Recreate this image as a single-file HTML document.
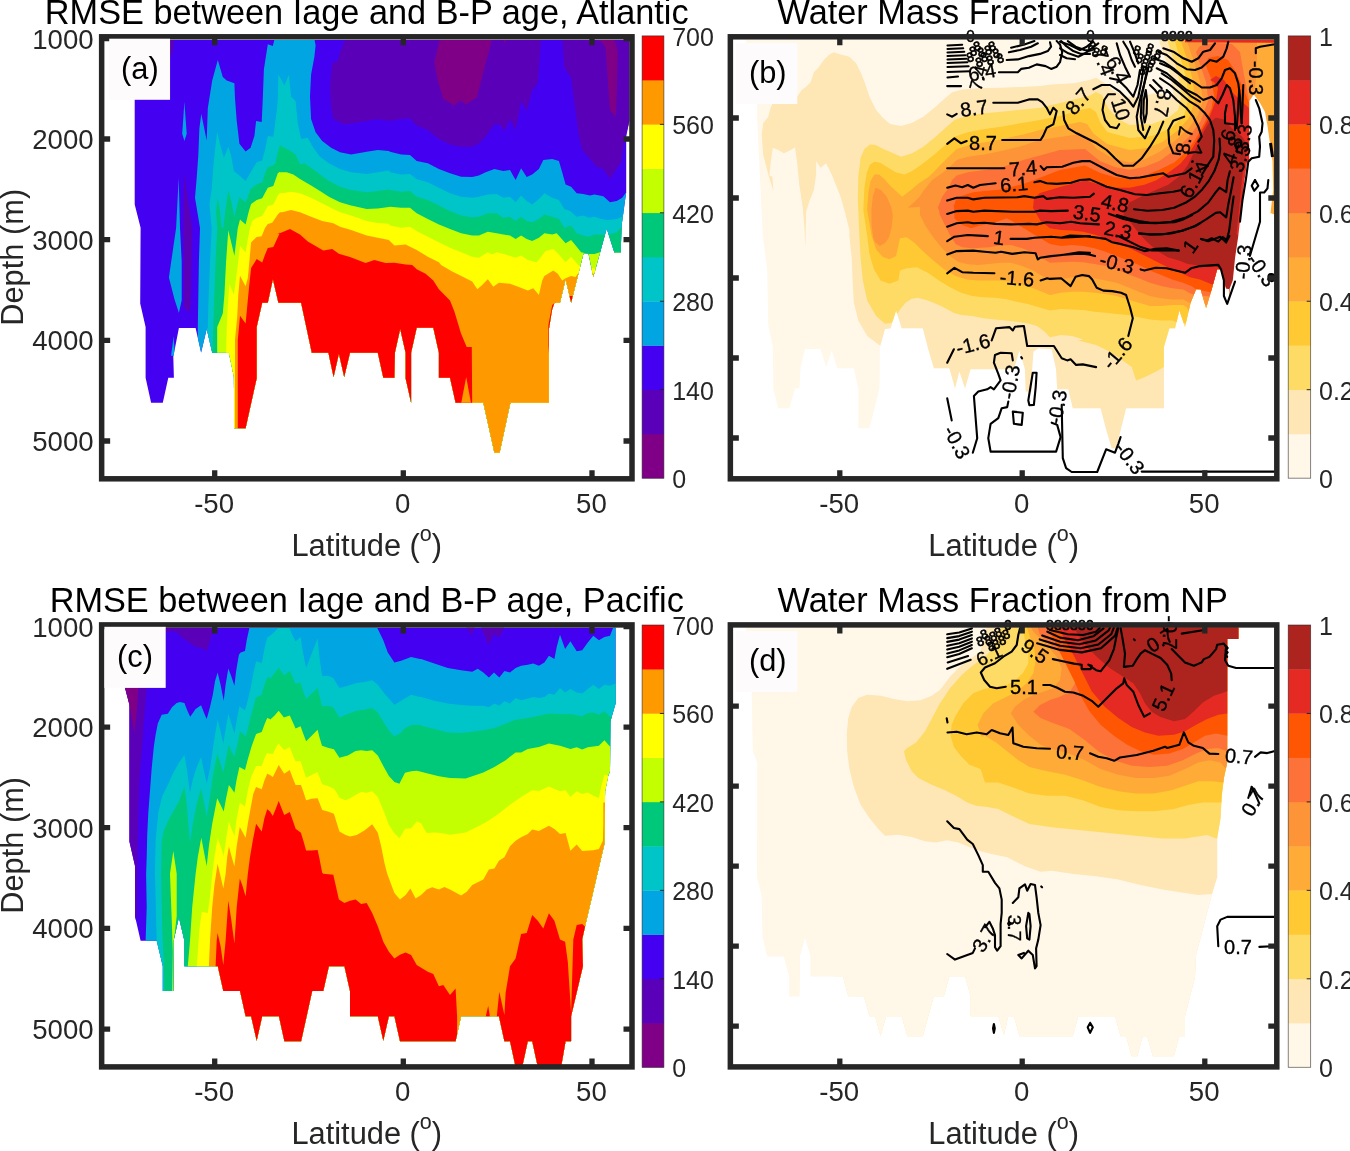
<!DOCTYPE html>
<html><head><meta charset="utf-8"><title>Figure</title>
<style>
html,body{margin:0;padding:0;background:#fff;}
svg{display:block;}
text{font-family:"Liberation Sans",sans-serif;fill:#262626;}
.tt{font-size:34.3px;fill:#000;text-anchor:middle;}
.tk{font-size:27.6px;}
.cb{font-size:25px;}
.tkm{font-size:27.6px;text-anchor:middle;}
.tke{font-size:27.6px;text-anchor:end;}
.lb{font-size:30.8px;text-anchor:middle;}
.cl{font-size:19px;fill:#000;text-anchor:middle;}
</style></head><body>
<svg width="1350" height="1151" viewBox="0 0 1350 1151">
<rect width="1350" height="1151" fill="#fff"/>

<g id="panel-a"><clipPath id="oc-a"><polygon points="134.7,39.9 629.3,39.9 629.3,121 626.2,136.7 626.2,192.2 621.6,225.6 620.7,252.5 614.4,252.5 606.7,228.4 593.3,277 588.5,253.5 583.5,253.5 571.1,302.7 565.6,279.3 560,302.7 554.4,302.7 552,310 548.9,329.3 548.9,402.7 510.4,402.7 499.6,452.7 494.4,452.7 483.3,402.7 455.6,402.7 450,377.8 438.9,377.8 438.9,352.7 433.3,327.8 416.7,327.8 411.1,352.7 411.1,402.7 405.6,378.2 405.6,352.7 400.2,328.9 394.9,352.7 394.4,377.8 383.3,377.8 377.8,352.7 350,352.7 344.2,377.1 338.9,353.8 333.6,377.1 328.4,352.7 311.8,352.7 301.1,302.7 278.4,302.7 272.9,279.3 267.8,302.7 262.2,302.7 256.7,327.1 256.7,378.2 245.6,428.2 234.2,428.3 233.9,376.7 228.9,352.8 212.2,352.8 206.7,329.1 201.1,352.4 195.6,328 178.9,328 173.3,356.7 173.9,377.8 168.3,377.8 162.8,402.8 151.1,402.8 145.6,377.8 145.6,326.9 140.2,303.6 140.6,227.8 134.7,204.4" fill="#000" /></clipPath>
<g clip-path="url(#oc-a)">
<polygon points="130,36 632,36 632,480 130,480" fill="#4400f0" />
<polygon points="345.6,38.4 340,52.2 337.8,61.1 332.2,63.3 330,85.6 331.1,107.8 333.3,118.9 344.4,124.4 366.7,121.1 377.8,118.9 388.9,121.1 390,121.1 401.1,118.9 410,118.4 416.7,125.6 427.8,130 438.9,138.9 450,144.4 461.1,146.7 472.2,146.7 478.9,143.3 485.6,136.7 490,130 495.6,123.3 501.1,125.6 504.4,131.1 510,118.9 515.6,130 521.1,101.1 526.7,111.1 532.2,90 537.8,83.3 540,52.2 541.1,38.4" fill="#5a00b8" />
<polygon points="562.2,38.4 564.4,67.8 571.1,77.8 574.4,103.3 578.9,136.7 582.2,150 590,158.9 596.7,166.7 603.3,168.9 610,178.9 615.6,170 621.1,162.2 624.4,136.7 630,123.3 630,38.4" fill="#5a00b8" />
<polygon points="440,38.4 436.7,52.2 434.4,63.3 437.8,81.1 443.3,98.9 454.4,105.6 460.4,100 465.6,104.4 476.7,97.8 480,85.6 485.6,63.3 491.1,43.3 491.8,38.4" fill="#7f0087" />
<polygon points="502.9,38.4 505.1,43.8 506.9,38.4" fill="#7f0087" />
<polygon points="594.4,38.4 602.2,42.2 605.6,47.8 608.9,96.7 610,110 615.6,116.7 616.7,96.7 617.8,52.2 615.6,43.3 613.3,38.4" fill="#7f0087" />
<polygon points="170,39.3 174.4,39.3 172.8,52.7 170,56.6" fill="#5a00b8" />
<polygon points="184.2,171.1 183.3,228 184.2,308 190,311.9 190.6,300.2 192.2,228 187.8,200" fill="#5a00b8" />
<polygon points="184.4,102.1 182.2,133.8 184.4,141 186.7,133.8" fill="#00a5e1" />
<polygon points="178.7,177.8 176.1,228 168.9,277.4 174.4,299.1 178.9,313 181.7,300.2 181.7,261.3 180,228" fill="#00a5e1" />
<polygon points="173.6,336.3 171.1,355.8 175,355.8" fill="#00a5e1" />
<polygon points="197.8,328 198.9,261.3 200,228 197.2,211.1 195,197.8 196.7,177.8 198.3,155.6 199.4,127.8 199.4,128.2 201.3,113.8 206.7,140.4 207.8,108.2 212.2,80.4 217.8,59.9 222.8,77.1 226.7,80.4 234.4,83.2 235,98.2 236.7,120.4 239.4,143.8 245.6,151.6 250.6,147.7 254.4,136 256.1,121 261.7,122.1 262.8,98.2 263.9,69.3 267.8,44.3 272.8,46 274.4,39.6 314.4,38.4 315.6,45.6 314.4,56.7 311.1,74.4 310,96.7 311.1,118.9 315.6,132.2 322.2,141.1 331.1,147.8 340,152.2 351.1,154.4 366.7,151.8 377.8,150 388.9,151.1 390,151.8 401.1,154.4 410,154.9 416.7,161.1 427.8,163.3 438.9,168.9 450,173.3 461.1,176.7 472.2,177.1 478.9,175.6 485.6,172.2 494.4,168.9 503.3,171.1 510,170 515.6,180 521.1,168.2 526.7,177.1 532.2,174.4 538.9,168.9 543.3,160 552.2,158.9 558.9,161.1 562.2,172.2 565.6,184.4 571.1,186.7 576.7,193.3 583.3,194 590,195.6 594.4,194.4 603.3,196.2 610,202.2 616.7,201.1 622.2,197.8 626.2,192.2 631.3,192.2 631.3,480 197.8,480" fill="#00a5e1" />
<polygon points="206.7,329.1 207.8,328 208.3,305.8 210,261.3 211.7,228 210.6,216.7 209.4,204.4 211.7,188.9 213.3,166.7 215,150 217.2,131.7 220,144.4 223.9,157.8 228.3,146.7 231.1,155.6 233.9,171.1 239.4,175.6 245.6,181.1 250.6,172.2 256.7,162.2 262.2,160.6 265,150 267.8,136.1 273.3,136.7 276.7,111.1 277.8,100 278.3,74.3 284.4,85.6 288.9,74.4 291.1,96.7 295.6,101.1 297.8,123.3 301.1,138.9 307.8,137.8 313.3,147.8 320,156.7 328.9,163.3 340,168.9 351.1,172.2 366.7,174 377.8,172.2 388.9,170.4 390,172.2 401.1,174.4 410,174 416.7,179.3 427.8,182.2 438.9,187.8 450,193.3 461.1,196.7 472.2,197.8 478.9,196.7 487.8,194.4 496.7,194 503.3,197.8 510,196.7 515.6,202.2 521.1,195.6 526.7,201.1 532.2,204.4 538.9,198.9 544.4,193.3 552.2,197.8 558.9,200 564.4,208.9 570,211.1 576.7,216.7 583.3,215.6 588.9,217.8 594.4,216.7 601.1,218.9 607.8,220 616.7,218.9 622.2,216.7 623.8,210 631.3,210 631.3,480 206.7,480" fill="#00c5c8" />
<polygon points="212.4,352.8 212.8,339.1 213.9,305.8 215.6,261.3 217.2,228 216.1,211.1 217.8,197.8 220,211.1 221.7,227.8 223.3,227.8 223.9,222.2 226.1,205.6 228.3,190 231.1,200 234.4,217.8 236.7,206.7 239.4,197.2 245.6,202.2 247.8,196.7 250.6,188.9 256.7,184.4 262.2,182.2 265,173.3 267.8,167.2 273.3,165.6 275.6,162.2 277.8,152.2 280,145 282.2,146.7 288.9,150 295.6,154.4 300,164.4 304.4,163.3 311.1,167.8 320,174.4 328.9,181.1 340,186.7 351.1,190 366.7,192.2 377.8,191.1 388.9,189.6 390,190 401.1,191.8 410,191.1 416.7,196.7 427.8,200 438.9,205.6 450,211.1 461.1,215.6 472.2,217.3 478.9,216.7 487.8,213.3 496.7,213.3 503.3,217.8 510,216.7 515.6,221.1 521.1,216.7 526.7,221.1 532.2,222.2 538.9,218.9 544.4,214.4 552.2,216.7 558.9,218.9 564.4,227.8 571.1,225.6 576.7,233.3 583.3,235.6 588.9,236.7 594.4,234.4 602.2,234.4 608.9,234.4 616.7,232.2 621.6,226.7 631.3,226.7 631.3,480 212.4,480" fill="#00c87a" />
<polygon points="217.2,352.8 217.2,326.9 222.8,313.6 224.4,294.7 226.1,261.3 228.3,230.2 234.4,255.8 237.8,228 240,219.4 245.6,224.4 248.9,211.1 251.1,203.9 256.7,200 262.2,198.3 267.8,187.8 273.3,186.1 277.8,173.3 280,171.7 280,172.2 286.7,172.2 293.3,174.4 300,178.9 311.1,185.6 320,191.1 328.9,196.7 340,202.2 351.1,205.6 366.7,208.9 377.8,208.4 388.9,207.1 390,206.7 401.1,207.8 410,207.8 416.7,213.3 427.8,218.9 438.9,224.4 450,228.9 461.1,233.3 472.2,235.6 478.9,235.6 487.8,231.8 496.7,233.3 503.3,234.4 510,235.6 515.6,238.9 521.1,235.6 526.7,238.9 532.2,241.1 538.9,237.8 544.4,233.3 552.2,234.4 556.7,233.3 565.6,243.3 571.1,240 576.7,246.7 581.1,252.2 588.9,254 594.4,254 600,252.2 607.8,252.2 627.8,252.2 631.3,252.2 631.3,480 217.2,480" fill="#c3ff00" />
<polygon points="226.1,352.8 226.7,328 227.8,305.8 229.4,284.1 233.9,294.7 236.1,278 237.8,264.7 240,245.8 245.6,252.4 247.8,239.1 250,228 252.2,221.1 256.7,217.8 262.2,216.1 267.8,206.1 273.3,204.4 277.8,195.6 280,192.8 282.2,193.3 291.1,191.8 300,193.3 311.1,197.8 320,202.2 328.9,206.7 340,212.2 351.1,215.6 366.7,221.1 377.8,222.9 388.9,223.8 390,225.6 401.1,227.8 410,226.7 416.7,231.1 427.8,236.7 438.9,242.2 450,247.8 461.1,252.2 472.2,256.7 478.9,257.8 487.8,252.2 492.2,254.4 496.7,252.2 505.6,254.4 515.6,257.8 521.1,255.6 527.8,260 536.7,262.2 541.1,256.7 545.6,251.1 553.3,248.9 558.9,254.4 565.6,262.2 571.1,256.7 576.7,263.3 578.9,265.6 627.8,274.4 631.3,274.4 631.3,480 226.1,480" fill="#ffff00" />
<polygon points="235,428.3 235,340 235.6,333.6 237.2,316.9 238.3,294.7 240,275.8 245.6,286.3 247.8,278 249.4,261.3 251.1,242.4 256.7,236.9 261.7,236.3 265,228 267.8,223.9 272.2,222.8 277.8,214.4 280,212.2 282.2,212.2 291.1,210 300,212.2 311.1,216.7 322.2,221.1 333.3,223.3 340,226.7 351.1,230 366.7,235.6 377.8,237.8 388.9,240 394.4,245.6 405.6,244.4 416.7,250 427.8,256.7 438.9,262.2 441.1,264.9 452.2,271.6 463.3,277.1 472.2,281.6 477.3,289.3 482.2,284.9 487.8,279.3 493.3,286.7 498.9,282.7 510,283.8 518.9,287.1 527.8,290.4 533.3,288.2 538.9,294.9 542.2,280.4 544.4,276 553.3,270.4 557.8,273.8 562.2,280.4 565.6,278.2 571.1,276 575.6,277.1 577.8,273.8 622.2,273.8 631.3,273.8 631.3,480 235,480" fill="#ff9900" />
<polygon points="237.8,428.3 237.8,340 238.9,328 240,315.8 245.6,323.6 247.8,300.2 249.4,283.6 251.1,268 256.7,259.1 262.2,262.4 265,254.7 267.8,248 273.3,246.9 274.4,244.7 280,232.4 276.7,234.4 282.2,232.2 290,228.9 300,234.4 307.8,241.6 323.3,250.4 332.2,248.9 338.9,253.8 350,257.1 365.6,263.1 374.4,260 385.6,263.1 394.4,262.7 405.6,264.4 412.2,264.9 416.7,269.3 425.6,273.8 433.3,280.4 438.9,289.3 450,300.4 454.4,311.6 461.1,333.8 466.7,347.1 471.8,347.1 472.2,404.9 237.8,480" fill="#ff0000" />
<polygon points="461.1,403.8 466.2,377.1 471.1,403.8" fill="#ff9900" />
<polygon points="555.6,302.2 552.2,304.9 548.4,324.9 548.4,353.8 550.2,329.3 553.3,309.3" fill="#ff0000" />
<polygon points="569.3,296 571.1,303.8 572.9,296" fill="#ff0000" />
</g></g>
<g id="panel-b"><clipPath id="oc-b"><polygon points="746,39.8 1274.3,39.8 1274.3,300 1229.4,300 1229.4,289.3 1226.1,288.2 1220.6,269.3 1217.2,269.3 1211.7,289.3 1206.1,308.2 1200.6,289.3 1196.1,289.3 1190.6,302.7 1185,327.1 1179.4,310.4 1175,328.2 1169.4,328.2 1163.9,347.1 1163.9,408.2 1126.1,408.2 1116.1,448.2 1111.7,448.2 1106.1,429.3 1100.6,408.2 1072.8,408.2 1068.3,389.3 1057.2,389.3 1056.1,369.3 1051.7,349.3 1038.3,348.2 1033.4,351.6 1032.1,369.3 1031.7,391.6 1025.7,391.6 1025,369.3 1019.4,350.4 1013.9,369.3 970.6,369.3 965,388.2 959.4,371.6 955,388.2 949.4,368.2 933.9,368.2 928.3,349.3 922.8,328.2 901.7,328.2 896.1,310.4 890.6,328.2 885,328.9 879.9,347.1 879.4,389.3 869.4,428.2 858.3,428.2 858.3,389.3 853.9,368.2 837.2,368.2 831.7,350.4 826.1,367.1 820.6,348.9 805,348.9 800.6,367.1 799.4,388.2 795,388.2 789.4,408.2 778.3,408.2 773.4,389.3 772.8,347.1 768.3,324.9 767.2,269.3 762.8,236 757.2,118.9 757.2,103.3 748,100" fill="#000" /></clipPath>
<g clip-path="url(#oc-b)">
<polygon points="740,36 1280,36 1280,482 740,482" fill="#fff7e8" />
<polygon points="763.2,123.3 768.3,116.7 770.6,107.8 772.8,103.3 797.2,96.7 801.7,90 806.1,86.7 810.6,82.2 813.9,72.2 818.3,67.8 823.9,60 829.4,54.4 833.9,52.2 840.6,54.4 849.4,56.7 856.1,63.3 860.6,72.2 865,83.3 869.4,96.7 876.1,110 882.8,117.8 890,123.9 901.1,126.1 912.2,122.8 923.3,116.7 934.4,107.8 945.6,97.8 952.2,92.2 962.2,89.4 978.9,88.3 1001.1,87.8 1023.3,86.9 1040,86.1 1051.7,84.4 1073.9,83.3 1089.4,80 1096.1,77.8 1105,83.3 1113.9,91.1 1127.2,96.7 1140.6,96.7 1153.9,93.3 1162.8,94.4 1169.4,98.9 1173.9,96.7 1172,85.6 1170,74.4 1167,63.3 1163,52.2 1160,43.3 1159,37.8 1280,37.8 1280,482 880.6,482 880.6,346 867.2,336 858.3,320.4 853.9,302.7 852.8,284.9 851.7,258.2 849.4,236 849.4,230 845,212.2 840.6,196.7 836.1,185.6 831.7,174.4 826.1,163.3 820.6,167.8 816.1,161.1 816.1,174.4 813.9,190 809.4,201.1 806.1,212.2 805.4,247.8 804.6,230 802.8,207.8 799.4,185.6 797.2,163.3 795,147.3 790.6,150 783.9,153.3 778.3,150 772.8,147.8 770.6,163.3 769.4,175.6 772.3,176.7 773.4,191.1 768.3,174.4 763.2,154.4 761.7,134.4" fill="#fee6b5" />
<polygon points="885,323.8 876.1,316 867.2,300.4 862.8,280.4 860.6,258.2 859.4,236 857.8,198.9 858.3,176.7 860.6,157.8 864.4,148.9 870,144.4 875.6,145 884.4,149.4 893.3,153.3 901.1,156.7 912.2,153.3 923.3,146.7 934.4,137.8 945.6,127.8 954.4,120 967.8,115.6 984.4,113.3 1001.1,111.7 1023.3,109.4 1040,107.8 1060,103 1080,98 1090,95.6 1096,92 1102,95 1108,108 1118,119 1129.6,125 1151.9,124 1168.2,118 1178,110 1181,98 1180,85 1177,70 1173,58 1169,46 1167,37.8 1280,37.8 1280,370 1163.9,367.1 1156.1,371.6 1145,377.1 1136.1,380.4 1131.7,367.1 1122.8,360.4 1109.4,351.6 1096.1,344.9 1078.3,340.4 1083.3,339.4 1072.2,336.1 1061.1,335 1050,337.2 1043.3,330.6 1036.7,326.1 1027.8,323.3 1016.7,321.7 1005.6,320.6 994.4,319.4 983.3,318.3 972.2,316.1 961.1,315 953.3,312.8 947.8,309.4 938.9,305 927.8,300.6 917.8,297.8 911.1,298.9 905.6,302.8 900,309.4 891.7,322.7" fill="#fedb65" />
<polygon points="889.4,283.8 880.6,280.4 873.9,269.3 869.4,253.8 867.2,236 863.3,210 864.4,187.8 866.7,173.3 870,164.4 874.4,161.7 880,162.8 886.7,166.7 895.6,172.2 904.4,174.4 912.2,171.1 923.3,163.3 934.4,154.4 945.6,144.4 954.4,136.7 967.8,132.2 984.4,128.9 1001.1,126.7 1023.3,122.8 1040,120 1060,116 1080,110 1090,108 1096,112 1100,122 1107.3,132 1129.6,138 1151.9,136 1171.2,128 1184,116 1188,100 1187,82 1183,66 1178,52 1174,37.8 1280,37.8 1280,340 1175.6,321.7 1172.2,320.6 1161.1,320.6 1150,319.4 1138.9,317.2 1127.8,315 1116.7,313.9 1105.6,312.8 1094.4,311.7 1083.3,310 1072.2,309.4 1061.1,308.9 1050,310.6 1038.9,307.2 1027.8,303.9 1016.7,301.7 1005.6,298.9 994.4,297.8 983.3,297.2 972.2,296.1 961.1,292.8 950,287.2 938.9,280.6 927.8,272.8 916.7,267.2 906.7,268.3 900,270.6 898.3,280.4" fill="#fec932" />
<polygon points="889.4,259.3 882.8,257.1 876.1,249.3 871.7,236 867.2,210 868.3,193.3 870.6,181.1 874.4,174.4 878.9,174.4 884.4,178.9 890,185.6 902.2,196.7 912.2,188.9 918.9,183.3 928.9,176.7 940,165.6 950,155.6 956.7,148.9 967.8,145.6 984.4,142.2 1001.1,139.4 1023.3,134.4 1040,130 1060,126 1080,122 1087,124 1093.9,134 1107.3,144 1129.6,150 1147.4,148 1162.3,142 1177.1,131 1189,118 1195,100 1193,82 1189,64 1184,50 1180,37.8 1280,37.8 1280,320 1188.9,311.7 1186.7,307.2 1183.3,305 1172.2,305 1161.1,306.1 1150,306.1 1138.9,302.8 1127.8,299.4 1116.7,296.1 1105.6,293.9 1094.4,292.8 1083.3,291.7 1072.2,291.7 1061.1,292.8 1050,295 1044.4,292.8 1033.3,288.3 1022.2,285 1011.1,281.7 1000,280.6 988.9,280.6 977.8,280.6 966.7,279.4 955.6,276.1 944.4,269.4 933.3,260.6 922.2,250.6 914.4,242.8 906.7,237.2 900,238.3 896.1,256" fill="#feab38" />
<polygon points="875.6,187.8 881.1,190 886.7,196.7 891.1,206.7 892.8,215.6 891.7,226.7 888.9,237.8 885,243 880,246 875,242 873.3,237.8 871.7,226.7 871.4,210 872.8,196.7" fill="#fd9437" />
<polygon points="907.8,207.8 918.9,197.8 923.3,191.1 932.2,180 943.3,172.2 952.2,164.4 956.7,160 967.8,156.7 984.4,154.4 1001.1,151.1 1023.3,145.6 1040,140 1060,137 1080,134 1088,139 1096.9,149 1111.7,158 1129.6,162.4 1144.4,159.4 1159.3,152 1174.2,141.6 1189,128.2 1197.9,114.9 1203,100 1200,82 1195,64 1190,50 1186,37.8 1257,37.8 1257,70 1254,94 1250,100 1250,310 1192.2,303.9 1187.8,301.7 1183.3,299.4 1172.2,299.4 1161.1,298.3 1150,296.1 1138.9,291.7 1127.8,287.2 1116.7,282.8 1105.6,280.6 1094.4,278.3 1083.3,277.2 1072.2,277.2 1061.1,278.9 1050,280.6 1044.4,277.2 1033.3,270.6 1022.2,266.1 1011.1,262.8 1000,262.8 988.9,263.9 977.8,265 966.7,263.9 957.8,261.7 950,256.1 942.2,248.3 933.3,237.2 925.6,226.1 920,215 920,212.2 920.2,206.7" fill="#fd9437" />
<polygon points="937.8,207.8 942.2,196.7 947.8,188.9 952.2,180 956.7,175.6 967.8,172.2 984.4,170 1001.1,167.8 1006.7,165.6 1023.3,160 1040,155.6 1060,150 1085,149 1099.9,160.9 1114.7,166.9 1129.6,169.8 1144.4,166.9 1159.3,160.9 1174.2,150.5 1189,137.1 1200.9,120.8 1208.3,100 1206,82 1200,64 1196,52 1200,46 1215,43 1232,44 1240,52 1244,75 1249,100 1250,300 1194.4,295 1188.9,292.8 1183.3,289.4 1172.2,288.3 1161.1,286.1 1150,282.8 1138.9,278.3 1127.8,273.9 1116.7,269.4 1105.6,266.1 1094.4,263.9 1083.3,262.2 1072.2,261.7 1061.1,262.2 1050,262.8 1044.4,259.4 1033.3,252.8 1022.2,248.3 1011.1,245 1000,245.6 988.9,247.2 972.2,248.3 962.2,247.2 955.6,243.9 950,235 944.4,223.9 940,215 938.9,210" fill="#fd7238" />
<polygon points="953.3,207.8 956.7,197.8 965.6,194.4 973.3,192.2 984.4,191.1 1001.1,189.4 1023.3,183.9 1040,177.8 1060,170 1085,165.4 1099.9,172.8 1114.7,177.3 1129.6,178.8 1144.4,175.8 1159.3,169.8 1174.2,162.4 1186,152 1195,140.1 1203.9,123.8 1211.3,108.9 1214,95 1211,78 1206,66 1208,58 1218,56 1228,60 1236,72 1244,90 1249,103 1250,300 1196.7,289.4 1191.1,286.1 1183.3,282.8 1172.2,279.4 1161.1,275 1150,270.6 1138.9,265 1127.8,260.6 1116.7,256.1 1105.6,251.7 1094.4,248.3 1083.3,246.1 1072.2,245 1061.1,246.1 1050,243.9 1044.4,240.6 1033.3,233.9 1022.2,227.2 1011.1,220.6 1006.7,218.3 994.4,222.8 980,225.6 971.1,228.3 962.2,225 954.4,218.3 954.4,215.6 953.9,204.4" fill="#fe5603" />
<polygon points="1033,208 1034,198 1040,193 1060,187 1085,180.2 1099.9,184.7 1114.7,187.7 1129.6,187.7 1144.4,184.7 1156.3,180.2 1168.2,172.8 1180.1,163.9 1189,153.5 1196.4,141.6 1202.4,129.7 1209.8,116.3 1216,100 1218,88 1214,82 1210,80 1216,76 1224,80 1232,92 1240,100 1249,108 1250,300 1200,279.4 1190,277.2 1183.3,273.9 1172.2,269.4 1161.1,263.9 1150,258.3 1138.9,252.8 1127.8,247.2 1116.7,242.8 1105.6,238.3 1094.4,234.4 1083.3,231.7 1072.2,230.6 1061.1,230 1050,228.3 1040.6,221.1" fill="#e42a22" />
<polygon points="1215.8,117.8 1208.3,123.8 1202.4,134.2 1197.9,144.6 1192,156.5 1187.5,165.4 1180.1,175.8 1168.2,184.7 1154.8,190.6 1141.5,196.6 1129.6,202.5 1125.1,210 1123.3,215 1130,221.7 1137.8,231.7 1145.6,240.6 1156.7,250.6 1167.8,257.2 1178.9,260.6 1187.8,263.9 1200,265.6 1211.7,267.1 1216.1,266 1220.6,269.3 1226.1,288.2 1229.4,289.3 1233.9,276 1238.3,236 1236.6,233.7 1239.5,204 1242.5,174.3 1245.5,159.4 1247,144.6 1242.5,137.1 1233.6,129.7 1227.6,123.8 1223.2,119.3" fill="#ad231d" />
<polygon points="1185,38.8 1274.3,38.8 1274.3,42.8 1185,42.3" fill="#e42a22" />
<polygon points="1253.9,94.4 1260,103 1265,112 1267.5,126 1269.5,140 1272.5,161 1273.2,190 1270.5,213 1276,215 1276,300 1229.4,300 1229.4,289.3 1232.8,280.4 1235,258.2 1238.3,236 1241,211.4 1244,183.2 1247,162.4 1249.2,159.4 1249.4,101.1" fill="#fff" />
</g><g id="b-lines">
<polyline points="947.5,45.5 962.15,44.7" fill="none" stroke="#000" stroke-width="2.1" stroke-linejoin="round" stroke-linecap="round" />
<polyline points="947.5,49 963.2,48.2" fill="none" stroke="#000" stroke-width="2.1" stroke-linejoin="round" stroke-linecap="round" />
<polyline points="947.5,52.5 964.25,51.7" fill="none" stroke="#000" stroke-width="2.1" stroke-linejoin="round" stroke-linecap="round" />
<polyline points="947.5,56 965.3,55.2" fill="none" stroke="#000" stroke-width="2.1" stroke-linejoin="round" stroke-linecap="round" />
<polyline points="947.5,59.5 966.35,58.7" fill="none" stroke="#000" stroke-width="2.1" stroke-linejoin="round" stroke-linecap="round" />
<polyline points="947.5,63 967.4,62.2" fill="none" stroke="#000" stroke-width="2.1" stroke-linejoin="round" stroke-linecap="round" />
<polyline points="947.5,67 968.6,66.2" fill="none" stroke="#000" stroke-width="2.1" stroke-linejoin="round" stroke-linecap="round" />
<polyline points="947.5,72 970.1,71.2" fill="none" stroke="#000" stroke-width="2.1" stroke-linejoin="round" stroke-linecap="round" />
<polyline points="947.2,86.1 961.1,86.1" fill="none" stroke="#000" stroke-width="2.1" stroke-linejoin="round" stroke-linecap="round" />
<polyline points="947.5,77.5 958,76.5" fill="none" stroke="#000" stroke-width="2.1" stroke-linejoin="round" stroke-linecap="round" />
<polyline points="947.2,114.4 952.2,116.7 956.7,113.9" fill="none" stroke="#000" stroke-width="2.1" stroke-linejoin="round" stroke-linecap="round" />
<polyline points="993.3,102.8 1017.8,102.8 1028.9,99.4 1037.8,99.4 1042.2,102.2 1046.7,107.8 1050,114.4 1053.3,107.8 1056.7,111.1 1053.3,124.4 1046.7,127.8 1043.3,135.6 1040.6,140 1002.2,140" fill="none" stroke="#000" stroke-width="2.1" stroke-linejoin="round" stroke-linecap="round" />
<polyline points="947.2,143.9 954.4,138.3 961.1,143.3 966.7,141.1" fill="none" stroke="#000" stroke-width="2.1" stroke-linejoin="round" stroke-linecap="round" />
<polyline points="947.2,168.3 1004.4,168.3" fill="none" stroke="#000" stroke-width="2.1" stroke-linejoin="round" stroke-linecap="round" />
<polyline points="1040.6,166.1 1043.9,170 1046.7,167.2 1062.2,166.7 1073.3,162.8 1082.2,161.1 1090,161.1 1106.7,170 1116.7,175 1130,178.3 1140,177.5 1153.3,175 1163.3,173.3 1168.3,176.7 1176.7,175 1185,173.3 1191.7,168.3" fill="none" stroke="#000" stroke-width="2.1" stroke-linejoin="round" stroke-linecap="round" />
<polyline points="947.2,187.8 955.6,185.6 962.2,187.2 967.8,185 973.3,187.8 980,185 995.6,183.3" fill="none" stroke="#000" stroke-width="2.1" stroke-linejoin="round" stroke-linecap="round" />
<polyline points="1034.4,182.2 1040,181.1 1046.7,183.3 1056.7,183.9 1071.1,182.8 1080,180 1090,179.4 1106.7,186.7 1120,190 1135,194.2 1146.7,195 1160,193.3 1173.3,191.7 1181.7,190" fill="none" stroke="#000" stroke-width="2.1" stroke-linejoin="round" stroke-linecap="round" />
<polyline points="1201.7,175 1206.7,166.7 1213.3,156.7 1214.2,140 1213.3,130 1210,120 1205,113.3 1198.3,106.7 1190,101.7 1180,93.3 1170,85 1160,78.3" fill="none" stroke="#000" stroke-width="2.1" stroke-linejoin="round" stroke-linecap="round" />
<polyline points="947.2,200.6 956.7,197.8 967.8,197.8 973.3,199.4 984.4,197.8 1017.8,197.2 1024.4,196.1 1034.4,197.8 1043.3,196.1 1046.7,198.9 1060,197.2 1073.3,197.8 1090,196.7 1093.9,193.6" fill="none" stroke="#000" stroke-width="2.1" stroke-linejoin="round" stroke-linecap="round" />
<polyline points="1134,209.2 1147.4,210.7 1162.3,210 1174.2,207.7 1186,202.5 1195,196.6 1202.4,189.2 1208.3,181.7 1214.3,171.3 1218.7,159.4 1220.2,149 1219.5,138.6" fill="none" stroke="#000" stroke-width="2.1" stroke-linejoin="round" stroke-linecap="round" />
<polyline points="947.2,213.9 956.7,211.1 967.8,210.6 973.3,211.7 984.4,210.6 1012.2,211.7 1034.4,211.7 1040,210.6 1051.1,211.1 1067.8,210.6" fill="none" stroke="#000" stroke-width="2.1" stroke-linejoin="round" stroke-linecap="round" />
<polyline points="1108.8,213.7 1123.6,218.9 1138.5,222.6 1156.3,223.3 1171.2,221.8 1186,217.4 1197.9,211.4 1208.3,202.5 1215.8,192.1 1219.5,187.7 1226.2,192.1 1227.6,180.2 1229.9,171.3" fill="none" stroke="#000" stroke-width="2.1" stroke-linejoin="round" stroke-linecap="round" />
<polyline points="947.2,226.7 956.7,223.3 967.8,222.2 973.3,223.3 984.4,222.8 995.6,223.9 1011.1,224.4 1028.9,223.9 1036.7,224.4 1046.7,222.2 1060,223.3 1071.1,221.7 1080,223.3 1090,223.9 1098.9,224.4" fill="none" stroke="#000" stroke-width="2.1" stroke-linejoin="round" stroke-linecap="round" />
<polyline points="1139.2,233.7 1151.9,234.5 1166.7,233.7 1181.6,230.8 1195,226.3 1206.8,218.9 1215.8,212.9 1220.2,212.2 1226.2,217.4 1228.4,204 1231.4,189.2 1233.6,177.3" fill="none" stroke="#000" stroke-width="2.1" stroke-linejoin="round" stroke-linecap="round" />
<polyline points="947.2,241.1 954.4,236.7 967.8,235 978.9,235.6 987.8,236.1" fill="none" stroke="#000" stroke-width="2.1" stroke-linejoin="round" stroke-linecap="round" />
<polyline points="1010.6,238.9 1026.7,238.9 1034.4,237.8 1051.1,236.7 1062.2,237.8 1073.3,236.1 1090,236.1 1061.1,237.8 1070,235.6 1083.3,236.1 1094.4,237.2 1105.6,238.9 1112.2,242.2 1122.2,244.4 1133.3,247.2 1144.4,251.1 1155.6,248.9 1166.7,248.3 1178.9,250.6" fill="none" stroke="#000" stroke-width="2.1" stroke-linejoin="round" stroke-linecap="round" />
<polyline points="1200.9,238.9 1208.3,241.2 1214.3,238.9 1220.2,236.7 1226.2,242.6 1229.1,230.8 1231.4,212.9 1233.6,196.6" fill="none" stroke="#000" stroke-width="2.1" stroke-linejoin="round" stroke-linecap="round" />
<polyline points="947.2,254.4 956.7,251.1 973.3,250.6 984.4,251.7 995.6,252.8 1001.1,251.7 1012.2,253.9 1024.4,252.2 1035.6,253.3 1037.8,259.4 1040,257.8 1051.1,256.1 1062.2,255 1078.9,252.2 1090,252.8 1061.1,255 1077.8,253.3 1088.9,254.4 1095,256.1" fill="none" stroke="#000" stroke-width="2.1" stroke-linejoin="round" stroke-linecap="round" />
<polyline points="1140.6,269.4 1144.4,270.6 1155.6,267.8 1166.7,268.3 1177.8,271.1 1185,272.8 1191.1,268.3 1200,266.1 1218.3,264.9 1221,269.3 1223.9,280.4 1223.9,296 1227.2,303.8 1235,281.6" fill="none" stroke="#000" stroke-width="2.1" stroke-linejoin="round" stroke-linecap="round" />
<polyline points="947.2,273.3 954.4,267.8 962.2,272.2 973.3,272.8 994.4,273.3" fill="none" stroke="#000" stroke-width="2.1" stroke-linejoin="round" stroke-linecap="round" />
<polyline points="1096.1,367.1 1082.8,364.4 1076.1,364.9 1070.6,359.3 1067.2,360.4 1061.7,358.2 1053.9,346 1027.2,346 1023.9,326 1015,326.7 1012.8,330.4 1009.4,327.1 996.1,328.2 991.7,340.4" fill="none" stroke="#000" stroke-width="2.1" stroke-linejoin="round" stroke-linecap="round" />
<polyline points="947.2,362.7 953.9,349.3" fill="none" stroke="#000" stroke-width="2.1" stroke-linejoin="round" stroke-linecap="round" />
<polyline points="947.2,398.2 951.7,420.4" fill="none" stroke="#000" stroke-width="2.1" stroke-linejoin="round" stroke-linecap="round" />
<polyline points="972.8,452.7 977.2,438.2 973.9,396 978.3,391.6 987.2,389.3 990.6,387.1 993.9,389.3 1000.6,380.4 998.3,373.8 993.9,362.7 995,354.9 1000.6,352.7 1011.7,353.3 1012.8,360.4" fill="none" stroke="#000" stroke-width="2.1" stroke-linejoin="round" stroke-linecap="round" />
<polyline points="1008.3,401.6 1007.2,407.1 1001.7,408.2 998.3,418.2 990.6,423.8 988.3,438.2 990.6,451.6 1025,451.6 1056.1,451.6 1060.6,437.1 1057.2,424.9 1051.7,422.7" fill="none" stroke="#000" stroke-width="2.1" stroke-linejoin="round" stroke-linecap="round" />
<polyline points="1061.7,404.9 1062.8,458.2 1066.1,468.2 1071.7,472 1097.2,472 1106.1,449.3 1115,452.7 1118.3,443.8 1120.6,437.1" fill="none" stroke="#000" stroke-width="2.1" stroke-linejoin="round" stroke-linecap="round" />
<polyline points="1141.7,471.6 1273.9,471.6" fill="none" stroke="#000" stroke-width="2.1" stroke-linejoin="round" stroke-linecap="round" />
<polyline points="1028.3,400.4 1032.8,372.7 1036.6,372.7 1035.7,387.1 1033.9,404.9 1029.4,405.3 1028.3,400.4" fill="none" stroke="#000" stroke-width="2.1" stroke-linejoin="round" stroke-linecap="round" />
<polyline points="1012.8,411.6 1022.8,412.7 1021.7,424.9 1013.9,423.8 1012.8,411.6" fill="none" stroke="#000" stroke-width="2.1" stroke-linejoin="round" stroke-linecap="round" />
<polyline points="1021.2,357.1 1022.1,358.4" fill="none" stroke="#000" stroke-width="2.1" stroke-linejoin="round" stroke-linecap="round" />
<polyline points="1063.3,111.7 1064.2,120 1068.3,128.3 1076.7,133.3 1086.7,138.3 1096.7,143.3 1106.7,150 1115,158.3 1123.3,165.8 1133.3,165.8 1141.7,158.3 1150,146.7 1158.3,133.3 1163.3,121.7" fill="none" stroke="#000" stroke-width="2.1" stroke-linejoin="round" stroke-linecap="round" />
<polyline points="1184.2,116.7 1173.3,120.8 1168.3,130 1169.2,143.3 1173.3,153.3 1180,154.2" fill="none" stroke="#000" stroke-width="2.1" stroke-linejoin="round" stroke-linecap="round" />
<polyline points="1115,94.2 1108.3,94.2 1104.2,100 1102.5,110 1105,120 1110,126.7 1116.7,128.3 1119.2,124.2" fill="none" stroke="#000" stroke-width="2.1" stroke-linejoin="round" stroke-linecap="round" />
<polyline points="1114.7,110.8 1115.3,111.7" fill="none" stroke="#000" stroke-width="2.1" stroke-linejoin="round" stroke-linecap="round" />
<polyline points="1145.8,90 1143.8,100 1143.3,113.3 1144.7,122.5 1146.7,113.3 1147,100 1145.8,90" fill="none" stroke="#000" stroke-width="2.1" stroke-linejoin="round" stroke-linecap="round" />
<polyline points="1093.3,89.2 1101.7,85 1110,85 1120,91.7 1128.3,100 1133.3,106.7 1138.3,96.7 1141.7,80 1143.3,68.3" fill="none" stroke="#000" stroke-width="2.1" stroke-linejoin="round" stroke-linecap="round" />
<polyline points="1110,78.3 1118.3,80 1126.7,88.3 1133.3,96.7 1137.5,85 1140,70" fill="none" stroke="#000" stroke-width="2.1" stroke-linejoin="round" stroke-linecap="round" />
<polyline points="1148.3,68.3 1140,100 1136.7,116.7 1138.3,130 1145,138.3 1150,126.7" fill="none" stroke="#000" stroke-width="2.1" stroke-linejoin="round" stroke-linecap="round" />
<polyline points="1146.7,71.7 1141.7,96.7 1140.8,116.7 1143.3,130" fill="none" stroke="#000" stroke-width="2.1" stroke-linejoin="round" stroke-linecap="round" />
<polyline points="1153.3,80 1158.3,85 1161.7,88.3" fill="none" stroke="#000" stroke-width="2.1" stroke-linejoin="round" stroke-linecap="round" />
<polyline points="1150,85 1155,90 1157.5,93.3" fill="none" stroke="#000" stroke-width="2.1" stroke-linejoin="round" stroke-linecap="round" />
<polyline points="1158.3,51.7 1166.7,55 1176.7,63.3 1186.7,69.2 1195,70 1201.7,67.5 1210,60 1216.7,61.7 1223.3,56.7 1226.7,48.3 1228.3,41.7" fill="none" stroke="#000" stroke-width="2.1" stroke-linejoin="round" stroke-linecap="round" />
<polyline points="1153.3,58.3 1163.3,61.7 1173.3,68.3 1183.3,76.7 1193.3,81.7 1201.7,87.5 1210,87.5 1216.7,85 1221.7,78.3 1225,70 1230,68.3 1235,73.3 1238.3,83.3 1240,96.7 1240.8,113.3 1241.7,123.3" fill="none" stroke="#000" stroke-width="2.1" stroke-linejoin="round" stroke-linecap="round" />
<polyline points="1156.7,68.3 1166.7,73.3 1176.7,81.7 1186.7,90 1196.7,95 1203.3,100 1211.7,96.7 1218.3,103.3 1222.5,95 1226.7,85 1230,88.3 1233.3,100 1235,116.7 1235,130" fill="none" stroke="#000" stroke-width="2.1" stroke-linejoin="round" stroke-linecap="round" />
<polyline points="1166.7,90 1176.7,100 1186.7,108.3 1193.3,116.7 1198.3,126.7 1201.7,136.7 1198.3,141.7" fill="none" stroke="#000" stroke-width="2.1" stroke-linejoin="round" stroke-linecap="round" />
<polyline points="1163.3,48.3 1173.3,51.7 1183.3,58.3 1191.7,61.7 1198.3,58.3 1203.3,51.7 1210,50 1215,43.3" fill="none" stroke="#000" stroke-width="2.1" stroke-linejoin="round" stroke-linecap="round" />
<polyline points="1160,63.3 1170,67.5 1180,75 1190,83.3" fill="none" stroke="#000" stroke-width="2.1" stroke-linejoin="round" stroke-linecap="round" />
<polyline points="1161.7,73.3 1171.7,80 1181.7,88.3 1191.7,96.7 1200,101.7" fill="none" stroke="#000" stroke-width="2.1" stroke-linejoin="round" stroke-linecap="round" />
<polyline points="1060,41.7 1070,45 1080,50 1086.7,46.7 1093.3,41.7" fill="none" stroke="#000" stroke-width="2.1" stroke-linejoin="round" stroke-linecap="round" />
<polyline points="1060,48.3 1068.3,53.3 1078.3,56.7 1085,53.3 1091.7,48.3 1098.3,43.3" fill="none" stroke="#000" stroke-width="2.1" stroke-linejoin="round" stroke-linecap="round" />
<polyline points="1060,55 1066.7,58.3 1075,59.2" fill="none" stroke="#000" stroke-width="2.1" stroke-linejoin="round" stroke-linecap="round" />
<polyline points="1123.3,41.7 1128.3,50 1131.7,60 1135,66.7" fill="none" stroke="#000" stroke-width="2.1" stroke-linejoin="round" stroke-linecap="round" />
<polyline points="1130,41.7 1134.2,51.7 1138.3,63.3" fill="none" stroke="#000" stroke-width="2.1" stroke-linejoin="round" stroke-linecap="round" />
<polyline points="1116.7,43.3 1120,55 1125,66.7 1130,76.7" fill="none" stroke="#000" stroke-width="2.1" stroke-linejoin="round" stroke-linecap="round" />
<polyline points="998.9,72.2 1017.8,72.2 1021.1,68.9 1028.9,67.8 1036.7,64.4 1045.6,66.1 1051.1,68.9 1056.7,66.7 1060,62.2 1062.2,52.2 1060,44.4 1056.7,41.1" fill="none" stroke="#000" stroke-width="2.1" stroke-linejoin="round" stroke-linecap="round" />
<polyline points="1006.7,60 1017.8,59.4 1028.9,56.1 1040,53.9 1047.8,51.1 1051.1,46.7 1050,42.2" fill="none" stroke="#000" stroke-width="2.1" stroke-linejoin="round" stroke-linecap="round" />
<polyline points="1008.9,52.2 1020,50 1031.1,46.7 1037.8,43.3" fill="none" stroke="#000" stroke-width="2.1" stroke-linejoin="round" stroke-linecap="round" />
<polyline points="1011.1,47.8 1024.4,44.4 1034.4,41.1" fill="none" stroke="#000" stroke-width="2.1" stroke-linejoin="round" stroke-linecap="round" />
<polyline points="1061.1,41.1 1065.6,45.6 1073.3,51.1 1081.1,53.9 1090,53.9" fill="none" stroke="#000" stroke-width="2.1" stroke-linejoin="round" stroke-linecap="round" />
<polyline points="1067.8,41.1 1075.6,46.7 1084.4,50 1090,50.6" fill="none" stroke="#000" stroke-width="2.1" stroke-linejoin="round" stroke-linecap="round" />
<polyline points="1275,44.2 1260,46.7 1255.8,48.3 1255.8,53.3" fill="none" stroke="#000" stroke-width="2.1" stroke-linejoin="round" stroke-linecap="round" />
<polyline points="1255.8,100 1259.2,108.3 1262.5,123.3 1261.7,131.7 1259.2,136.7 1260,146.7 1259.2,156.7 1251.7,158.3 1248.3,161.7 1245.8,180 1242.5,200 1240,221.7" fill="none" stroke="#000" stroke-width="2.1" stroke-linejoin="round" stroke-linecap="round" />
<polyline points="1255,180 1258.3,185.8 1254.2,190.8 1251.7,185.8 1255,180" fill="none" stroke="#000" stroke-width="2.1" stroke-linejoin="round" stroke-linecap="round" />
<polyline points="1268.3,180 1267.5,188.3 1264.2,192.5 1260,192.5 1260,221.7 1249.9,256" fill="none" stroke="#000" stroke-width="2.1" stroke-linejoin="round" stroke-linecap="round" />
<polyline points="1226.7,105 1225,113.3 1225,123.3 1233.3,124.2" fill="none" stroke="#000" stroke-width="2.1" stroke-linejoin="round" stroke-linecap="round" />
<polyline points="1243.3,85 1242.5,105 1241.7,123.3" fill="none" stroke="#000" stroke-width="2.1" stroke-linejoin="round" stroke-linecap="round" />
<polyline points="1239.2,90 1238,110 1236.7,128.3" fill="none" stroke="#000" stroke-width="2.1" stroke-linejoin="round" stroke-linecap="round" />
<polyline points="1118.3,236 1140.6,247.1 1151.7,250.4 1178.3,250.4" fill="none" stroke="#000" stroke-width="2.1" stroke-linejoin="round" stroke-linecap="round" />
<polyline points="1201.7,239.3 1207.2,240.4 1211.7,238.2 1218.3,241.6 1222.8,237.1 1227.2,240.4 1229.4,236" fill="none" stroke="#000" stroke-width="2.1" stroke-linejoin="round" stroke-linecap="round" />
<polyline points="1116.7,215 1127.8,218.3 1138.9,221.1 1150,222.8 1161.1,222.8 1174.4,222.2 1183.3,219.4 1192.2,215" fill="none" stroke="#000" stroke-width="2.1" stroke-linejoin="round" stroke-linecap="round" />
<polyline points="1138.9,233.3 1150,234.4 1161.1,234.4 1172.2,233.3 1183.3,230.6 1194.4,226.1 1200,223.3" fill="none" stroke="#000" stroke-width="2.1" stroke-linejoin="round" stroke-linecap="round" />
<polyline points="1040.6,280.4 1047.2,278.2 1050,278.9 1061.1,278.3 1070.6,286.1 1075.6,276.7 1082.2,275 1088.9,276.1 1092.2,279.4 1096.7,287.8 1103.3,290.6 1112.2,291.1 1121.1,292.8 1126.1,295 1130,307.2 1132.8,318.3 1128.3,336.1" fill="none" stroke="#000" stroke-width="2.1" stroke-linejoin="round" stroke-linecap="round" />
<text class="cl" stroke="#000" stroke-width="0.35" style="font-size:20px" transform="translate(974.0,108.0) rotate(-8)" y="7.2">8.7</text>
<text class="cl" stroke="#000" stroke-width="0.35" style="font-size:20px" transform="translate(983.0,142.5) rotate(0)" y="7.2">8.7</text>
<text class="cl" stroke="#000" stroke-width="0.35" style="font-size:20px" transform="translate(1023.0,168.0) rotate(-5)" y="7.2">7.4</text>
<text class="cl" stroke="#000" stroke-width="0.35" style="font-size:20px" transform="translate(1014.0,184.0) rotate(-5)" y="7.2">6.1</text>
<text class="cl" stroke="#000" stroke-width="0.35" style="font-size:20px" transform="translate(1191.0,184.0) rotate(-62)" y="7.2">6.1</text>
<text class="cl" stroke="#000" stroke-width="0.35" style="font-size:20px" transform="translate(1115.0,203.0) rotate(12)" y="7.2">4.8</text>
<text class="cl" stroke="#000" stroke-width="0.35" style="font-size:20px" transform="translate(1087.0,213.0) rotate(8)" y="7.2">3.5</text>
<text class="cl" stroke="#000" stroke-width="0.35" style="font-size:20px" transform="translate(1118.0,230.0) rotate(12)" y="7.2">2.3</text>
<text class="cl" stroke="#000" stroke-width="0.35" style="font-size:20px" transform="translate(999.0,237.5) rotate(8)" y="7.2">1</text>
<text class="cl" stroke="#000" stroke-width="0.35" style="font-size:20px" transform="translate(1190.0,246.0) rotate(-55)" y="7.2">1</text>
<text class="cl" stroke="#000" stroke-width="0.35" style="font-size:20px" transform="translate(1117.0,263.0) rotate(14)" y="7.2">-0.3</text>
<text class="cl" stroke="#000" stroke-width="0.35" style="font-size:20px" transform="translate(1017.0,278.0) rotate(5)" y="7.2">-1.6</text>
<text class="cl" stroke="#000" stroke-width="0.35" style="font-size:20px" transform="translate(1117.0,353.0) rotate(-50)" y="7.2">-1.6</text>
<text class="cl" stroke="#000" stroke-width="0.35" style="font-size:20px" transform="translate(973.0,344.0) rotate(-14)" y="7.2">-1.6</text>
<text class="cl" stroke="#000" stroke-width="0.35" style="font-size:20px" transform="translate(957.0,442.0) rotate(62)" y="7.2">-0.3</text>
<text class="cl" stroke="#000" stroke-width="0.35" style="font-size:20px" transform="translate(1010.0,382.0) rotate(-80)" y="7.2">-0.3</text>
<text class="cl" stroke="#000" stroke-width="0.35" style="font-size:20px" transform="translate(1057.0,407.0) rotate(-80)" y="7.2">-0.3</text>
<text class="cl" stroke="#000" stroke-width="0.35" style="font-size:20px" transform="translate(1130.0,458.0) rotate(52)" y="7.2">-0.3</text>
<text class="cl" stroke="#000" stroke-width="0.35" style="font-size:20px" transform="translate(1078.0,101.0) rotate(-50)" y="7.2">8.7</text>
<text class="cl" stroke="#000" stroke-width="0.35" style="font-size:20px" transform="translate(1184.0,140.0) rotate(-80)" y="7.2">8.7</text>
<text class="cl" stroke="#000" stroke-width="0.35" style="font-size:20px" transform="translate(1121.0,109.0) rotate(72)" y="7.2">10</text>
<text class="cl" stroke="#000" stroke-width="0.35" style="font-size:20px" transform="translate(1163.0,103.0) rotate(100)" y="7.2">8.7</text>
<text class="cl" stroke="#000" stroke-width="0.35" style="font-size:20px" transform="translate(1104.0,62.0) rotate(70)" y="7.2">7.4</text>
<text class="cl" stroke="#000" stroke-width="0.35" style="font-size:20px" transform="translate(1118.0,70.0) rotate(62)" y="7.2">6.4</text>
<text class="cl" stroke="#000" stroke-width="0.35" style="font-size:20px" transform="translate(1198.0,159.0) rotate(65)" y="7.2">7.4</text>
<text class="cl" stroke="#000" stroke-width="0.7" style="font-size:13px" transform="translate(1096.0,52.0) rotate(20)" y="4.7">8</text>
<text class="cl" stroke="#000" stroke-width="0.7" style="font-size:13px" transform="translate(1104.0,50.0) rotate(20)" y="4.7">8</text>
<text class="cl" stroke="#000" stroke-width="0.7" style="font-size:13px" transform="translate(1140.0,58.0) rotate(20)" y="4.7">8</text>
<text class="cl" stroke="#000" stroke-width="0.7" style="font-size:13px" transform="translate(1148.0,55.0) rotate(20)" y="4.7">8</text>
<text class="cl" stroke="#000" stroke-width="0.7" style="font-size:13px" transform="translate(1153.0,60.0) rotate(20)" y="4.7">8</text>
<text class="cl" stroke="#000" stroke-width="0.7" style="font-size:13px" transform="translate(1145.0,63.0) rotate(20)" y="4.7">8</text>
<text class="cl" stroke="#000" stroke-width="0.7" style="font-size:13px" transform="translate(1137.0,50.0) rotate(20)" y="4.7">8</text>
<text class="cl" stroke="#000" stroke-width="0.7" style="font-size:13px" transform="translate(1150.0,48.0) rotate(20)" y="4.7">8</text>
<text class="cl" stroke="#000" stroke-width="0.7" style="font-size:13px" transform="translate(1158.0,54.0) rotate(20)" y="4.7">8</text>
<text class="cl" stroke="#000" stroke-width="0.7" style="font-size:13px" transform="translate(1143.0,70.0) rotate(20)" y="4.7">8</text>
<text class="cl" stroke="#000" stroke-width="0.7" style="font-size:13px" transform="translate(1150.0,67.0) rotate(20)" y="4.7">8</text>
<text class="cl" stroke="#000" stroke-width="0.7" style="font-size:13px" transform="translate(1092.0,46.0) rotate(20)" y="4.7">8</text>
<text class="cl" stroke="#000" stroke-width="0.35" style="font-size:20px" transform="translate(982.0,72.0) rotate(-10)" y="7.2">6.4</text>
<text class="cl" stroke="#000" stroke-width="0.35" style="font-size:18px" transform="translate(978.0,78.0) rotate(-75)" y="6.5">7.4</text>
<text class="cl" stroke="#000" stroke-width="0.7" style="font-size:13px" transform="translate(973.0,51.0) rotate(-15)" y="4.7">8</text>
<text class="cl" stroke="#000" stroke-width="0.7" style="font-size:13px" transform="translate(981.0,52.0) rotate(-15)" y="4.7">8</text>
<text class="cl" stroke="#000" stroke-width="0.7" style="font-size:13px" transform="translate(988.0,50.0) rotate(-15)" y="4.7">8</text>
<text class="cl" stroke="#000" stroke-width="0.7" style="font-size:13px" transform="translate(996.0,53.0) rotate(-15)" y="4.7">8</text>
<text class="cl" stroke="#000" stroke-width="0.7" style="font-size:13px" transform="translate(1000.0,58.0) rotate(-15)" y="4.7">8</text>
<text class="cl" stroke="#000" stroke-width="0.7" style="font-size:13px" transform="translate(984.0,57.0) rotate(-15)" y="4.7">8</text>
<text class="cl" stroke="#000" stroke-width="0.7" style="font-size:13px" transform="translate(977.0,46.0) rotate(-15)" y="4.7">8</text>
<text class="cl" stroke="#000" stroke-width="0.7" style="font-size:13px" transform="translate(992.0,46.0) rotate(-15)" y="4.7">8</text>
<text class="cl" stroke="#000" stroke-width="0.7" style="font-size:13px" transform="translate(970.0,57.0) rotate(-15)" y="4.7">8</text>
<text class="cl" stroke="#000" stroke-width="0.7" style="font-size:13px" transform="translate(990.0,60.0) rotate(-15)" y="4.7">8</text>
<text class="cl" stroke="#000" stroke-width="0.7" style="font-size:13px" transform="translate(979.0,62.0) rotate(-15)" y="4.7">8</text>
<text class="cl" stroke="#000" stroke-width="0.35" style="font-size:16px" transform="translate(970.5,36.0) rotate(0)" y="5.8">0</text>
<text class="cl" stroke="#000" stroke-width="0.35" style="font-size:16px" transform="translate(1090.5,36.0) rotate(0)" y="5.8">0</text>
<text class="cl" stroke="#000" stroke-width="0.7" style="font-size:14px" transform="translate(1165.0,36.0) rotate(0)" y="5.0">8</text>
<text class="cl" stroke="#000" stroke-width="0.7" style="font-size:14px" transform="translate(1173.0,36.0) rotate(0)" y="5.0">8</text>
<text class="cl" stroke="#000" stroke-width="0.7" style="font-size:14px" transform="translate(1181.0,36.0) rotate(0)" y="5.0">8</text>
<text class="cl" stroke="#000" stroke-width="0.7" style="font-size:14px" transform="translate(1189.0,36.0) rotate(0)" y="5.0">8</text>
<text class="cl" stroke="#000" stroke-width="0.35" style="font-size:20px" transform="translate(1256.0,78.0) rotate(90)" y="7.2">-0.3</text>
<text class="cl" stroke="#000" stroke-width="0.35" style="font-size:20px" transform="translate(1243.0,262.0) rotate(-85)" y="7.2">-0.3</text>
<text class="cl" stroke="#000" stroke-width="0.35" style="font-size:20px" transform="translate(1262.0,270.0) rotate(55)" y="7.2">-0.3</text>
<text class="cl" stroke="#000" stroke-width="0.35" style="font-size:20px" transform="translate(1243.0,138.0) rotate(-80)" y="7.2">3.3</text>
<text class="cl" stroke="#000" stroke-width="0.35" style="font-size:20px" transform="translate(1232.0,150.0) rotate(-70)" y="7.2">4.8</text>
<text class="cl" stroke="#000" stroke-width="0.35" style="font-size:20px" transform="translate(1240.0,158.0) rotate(-70)" y="7.2">3.5</text>
<text class="cl" stroke="#000" stroke-width="0.35" style="font-size:20px" transform="translate(1228.0,135.0) rotate(-70)" y="7.2">6</text>
<path d="M1270.5 143 L1272.5 157" stroke="#000" stroke-width="3" fill="none"/>
<circle cx="1271.3" cy="277" r="4" fill="#000"/>
</g></g>
<g transform="translate(0,0)">
<rect x="101.65" y="36.8" width="530.35" height="442.0" fill="none" stroke="#262626" stroke-width="5.5"/>
<path d="M214.7 478.8v-8.5M214.7 36.8v8.5" stroke="#262626" stroke-width="5.3" fill="none"/>
<path d="M403.3 478.8v-8.5M403.3 36.8v8.5" stroke="#262626" stroke-width="5.3" fill="none"/>
<path d="M592.0 478.8v-8.5M592.0 36.8v8.5" stroke="#262626" stroke-width="5.3" fill="none"/>
<path d="M101.65 38.6h8.5M632 38.6h-8.5" stroke="#262626" stroke-width="5.3" fill="none"/>
<path d="M101.65 139h8.5M632 139h-8.5" stroke="#262626" stroke-width="5.3" fill="none"/>
<path d="M101.65 239.6h8.5M632 239.6h-8.5" stroke="#262626" stroke-width="5.3" fill="none"/>
<path d="M101.65 340.3h8.5M632 340.3h-8.5" stroke="#262626" stroke-width="5.3" fill="none"/>
<path d="M101.65 441h8.5M632 441h-8.5" stroke="#262626" stroke-width="5.3" fill="none"/>
<text x="93.6" y="48.5" class="tke">1000</text>
<text x="93.6" y="149" class="tke">2000</text>
<text x="93.6" y="249.6" class="tke">3000</text>
<text x="93.6" y="350.3" class="tke">4000</text>
<text x="93.6" y="451" class="tke">5000</text>
<text x="214.1" y="513.1" class="tkm">-50</text>
<text x="402.7" y="513.1" class="tkm">0</text>
<text x="591.4" y="513.1" class="tkm">50</text>
<text x="366.75" y="24.3" class="tt">RMSE between Iage and B-P age, Atlantic</text>
<text x="366.75" y="556" class="lb">Latitude (<tspan dy="-15" font-size="21.5">o</tspan><tspan dy="15">)</tspan></text>
<text transform="translate(22.6,257.3) rotate(-90)" class="lb">Depth (m)</text>
<rect x="109.2" y="38.7" width="60.85" height="61.1" fill="#fdfbfb"/>
<text x="139.9" y="78.5" class="lb" style="fill:#000">(a)</text>
<rect x="642.1" y="433.92" width="21.799999999999955" height="44.52" fill="#7f0087"/>
<rect x="642.1" y="389.70" width="21.799999999999955" height="44.52" fill="#5a00b8"/>
<rect x="642.1" y="345.47" width="21.799999999999955" height="44.52" fill="#4400f0"/>
<rect x="642.1" y="301.25" width="21.799999999999955" height="44.52" fill="#00a5e1"/>
<rect x="642.1" y="257.02" width="21.799999999999955" height="44.52" fill="#00c5c8"/>
<rect x="642.1" y="212.80" width="21.799999999999955" height="44.52" fill="#00c87a"/>
<rect x="642.1" y="168.57" width="21.799999999999955" height="44.52" fill="#c3ff00"/>
<rect x="642.1" y="124.35" width="21.799999999999955" height="44.52" fill="#ffff00"/>
<rect x="642.1" y="80.12" width="21.799999999999955" height="44.52" fill="#ff9900"/>
<rect x="642.1" y="35.90" width="21.799999999999955" height="44.52" fill="#ff0000"/>
<rect x="642.1" y="35.9" width="21.80" height="442.25" fill="none" stroke="#262626" stroke-width="0.7" stroke-opacity="0.8"/>
<text x="672.1999999999999" y="488.05" class="cb">0</text>
<path d="M663.9 389.70h-4" stroke="#262626" stroke-width="1"/>
<text x="672.1999999999999" y="399.60" class="cb">140</text>
<path d="M663.9 301.25h-4" stroke="#262626" stroke-width="1"/>
<text x="672.1999999999999" y="311.15" class="cb">280</text>
<path d="M663.9 212.80h-4" stroke="#262626" stroke-width="1"/>
<text x="672.1999999999999" y="222.70" class="cb">420</text>
<path d="M663.9 124.35h-4" stroke="#262626" stroke-width="1"/>
<text x="672.1999999999999" y="134.25" class="cb">560</text>
<text x="672.1999999999999" y="45.80" class="cb">700</text>
<rect x="730.35" y="36.8" width="546.4499999999999" height="442.0" fill="none" stroke="#262626" stroke-width="5.5"/>
<path d="M839.8 478.8v-8.5M839.8 36.8v8.5" stroke="#262626" stroke-width="5.3" fill="none"/>
<path d="M1022.2 478.8v-8.5M1022.2 36.8v8.5" stroke="#262626" stroke-width="5.3" fill="none"/>
<path d="M1204.8 478.8v-8.5M1204.8 36.8v8.5" stroke="#262626" stroke-width="5.3" fill="none"/>
<path d="M730.35 118h8.5M1276.8 118h-8.5" stroke="#262626" stroke-width="5.3" fill="none"/>
<path d="M730.35 198h8.5M1276.8 198h-8.5" stroke="#262626" stroke-width="5.3" fill="none"/>
<path d="M730.35 278h8.5M1276.8 278h-8.5" stroke="#262626" stroke-width="5.3" fill="none"/>
<path d="M730.35 358h8.5M1276.8 358h-8.5" stroke="#262626" stroke-width="5.3" fill="none"/>
<path d="M730.35 438h8.5M1276.8 438h-8.5" stroke="#262626" stroke-width="5.3" fill="none"/>
<text x="839.1999999999999" y="513.1" class="tkm">-50</text>
<text x="1021.6" y="513.1" class="tkm">0</text>
<text x="1204.2" y="513.1" class="tkm">50</text>
<text x="1002.8" y="24.3" class="tt">Water Mass Fraction from NA</text>
<text x="1003.6" y="556" class="lb">Latitude (<tspan dy="-15" font-size="21.5">o</tspan><tspan dy="15">)</tspan></text>
<rect x="736" y="42.9" width="61.3" height="61.1" fill="#fdfbfb"/>
<text x="767.8" y="82.8" class="lb" style="fill:#000">(b)</text>
<rect x="1288.2" y="433.92" width="22.5" height="44.52" fill="#fff7e8"/>
<rect x="1288.2" y="389.70" width="22.5" height="44.52" fill="#fee6b5"/>
<rect x="1288.2" y="345.47" width="22.5" height="44.52" fill="#fedb65"/>
<rect x="1288.2" y="301.25" width="22.5" height="44.52" fill="#fec932"/>
<rect x="1288.2" y="257.02" width="22.5" height="44.52" fill="#feab38"/>
<rect x="1288.2" y="212.80" width="22.5" height="44.52" fill="#fd9437"/>
<rect x="1288.2" y="168.57" width="22.5" height="44.52" fill="#fd7238"/>
<rect x="1288.2" y="124.35" width="22.5" height="44.52" fill="#fe5603"/>
<rect x="1288.2" y="80.12" width="22.5" height="44.52" fill="#e42a22"/>
<rect x="1288.2" y="35.90" width="22.5" height="44.52" fill="#ad231d"/>
<rect x="1288.2" y="35.9" width="22.50" height="442.25" fill="none" stroke="#262626" stroke-width="0.7" stroke-opacity="0.8"/>
<text x="1319.0" y="488.05" class="cb">0</text>
<path d="M1310.7 389.70h-4" stroke="#262626" stroke-width="1"/>
<text x="1319.0" y="399.60" class="cb">0.2</text>
<path d="M1310.7 301.25h-4" stroke="#262626" stroke-width="1"/>
<text x="1319.0" y="311.15" class="cb">0.4</text>
<path d="M1310.7 212.80h-4" stroke="#262626" stroke-width="1"/>
<text x="1319.0" y="222.70" class="cb">0.6</text>
<path d="M1310.7 124.35h-4" stroke="#262626" stroke-width="1"/>
<text x="1319.0" y="134.25" class="cb">0.8</text>
<text x="1319.0" y="45.80" class="cb">1</text>
</g>
<g id="panel-c"><g transform="translate(0,0)">
<clipPath id="oc-c"><polygon points="125,627.8 615.6,627.8 615.6,703.6 610.4,721.3 610,771.3 608.2,775.8 605.1,791.3 604.4,844 585.1,926.2 582.2,939.6 582.9,966.2 571.1,1016.2 571.1,1041.3 565.6,1041.3 561.1,1067 537.8,1067 532.2,1041.3 527.8,1041.3 522.2,1067 515.6,1067 510,1041.3 504.4,1041.3 498.9,1016.2 461.1,1016.2 455.6,1041.3 400,1041.3 394.4,1016.2 388.9,1016.2 383.3,1040.7 377.8,1016.2 350,1016.2 350,991.1 344.4,966.2 328.9,966.2 323.3,991.1 312.2,991.1 301.1,1041.3 284.4,1041.3 278.9,1016.2 262.2,1016.2 256.7,1040.7 251.1,1016.2 245.6,1016.2 240,991.1 223.3,991.1 217.8,966.2 184.4,966.2 184.4,940.7 178.9,917.3 173.6,940.7 173.3,991.1 162.8,991.1 162.8,966.2 156.7,940.7 140.6,940.7 135,916.2 135,866 129.4,841.6 129.4,704.7 125,688" fill="#000" /></clipPath>
<g clip-path="url(#oc-c)">
<polygon points="120,620 640,620 640,1072 120,1072" fill="#4400f0" />
<polygon points="120,627 146.7,621.3 146.7,688 145,706.9 143.3,729.1 142.2,745.8 139.4,779.3 138.3,812.7 137.6,846 137.2,873.8 136.7,916.2 135.6,920.7 120,930" fill="#5a00b8" />
<polygon points="125,621.3 138.3,621.3 138.3,688 136.7,712.4 134.4,733.6 129.4,704.7 125,688" fill="#7f0087" />
<polygon points="165.8,624.7 165.8,632.4 172.2,631.1 176.7,632.2 183.3,638.6 188.9,641.9 195.6,647.1 201.1,647.8 206.7,651.1 210,640.2 212.2,633.6 212.8,624.7" fill="#5a00b8" />
<polygon points="464.4,624.7 471.8,635.8 475.6,624.7" fill="#5a00b8" />
<polygon points="480,624.7 488.2,644.7 494.4,633.6 499.3,637.6 505.6,624.7" fill="#5a00b8" />
<polygon points="145.6,940.7 146.7,907.3 146.1,874 146.7,857.1 147.2,834.9 148.3,812.7 150,790.4 151.7,768.2 153.9,746 155.6,734.7 157.8,723.6 161.7,714.7 167.8,713.8 172.2,706.9 176.7,703 180,701.9 184.4,703 187.2,710.2 190.2,716.7 195.6,709.1 201.1,705.2 203.9,712.4 206.7,719.1 210,706.9 212.8,694.7 215,681.3 217.6,672.4 220.6,684.7 223.7,700.8 225.6,684.7 228.3,668.6 231.1,675.8 234.4,685.8 236.1,671.3 238.9,654.7 240.6,652.4 245,651.1 246.7,640.2 249.4,627.8 249.4,625 377.2,625 377.2,627.8 383.3,640.2 387.8,652.4 394.4,662.4 401.1,660.8 411.1,656.9 420,659.1 421.1,659.1 434.4,663.6 447.8,668 461.1,670.2 472.2,671.8 477.8,668.7 483.3,672.4 488.9,677.6 494,672.4 499.3,677.6 504.4,670.9 510,672.4 515.6,668 521.1,665.8 527.8,664.7 533.3,663.6 538.9,665.8 544.4,662.4 548.9,655.8 554.4,659.1 556.7,646.9 560,634.7 565.1,649.1 570.4,641.3 576.7,651.3 582.2,650.2 587.8,642.4 593.3,635.8 598.9,640.2 604.4,636.9 610,635.8 613.3,627.3 613.3,625 640,625 640,1072 145.6,1072" fill="#00a5e1" />
<polygon points="156.7,940.7 156.1,918.4 155,874 155.6,840.4 158.3,812.7 162.2,796 167.8,784.9 173.3,772.7 178.9,762.7 184.4,754.9 186.7,768.2 190,792.7 192.8,779.3 196.7,767.1 201.1,757.1 203.9,770.4 206.7,783.8 210,768.2 213.3,746 215.6,731.3 217.6,719.7 220.6,731.3 223.3,743.6 225.6,729.1 228.3,714.1 231.1,722.4 234.4,733.6 236.7,720.2 239.4,706.3 242.2,708.6 245,710.2 247.8,700.2 250.6,688 253.3,673.6 256.1,661.3 261.7,663 264.4,649.1 267.2,637.4 270,635.8 274.4,631.9 278.3,627.8 278.3,625 289.4,625 289.4,627.8 292.2,634.7 295.6,641.3 300.6,636.9 302.8,651.3 306.1,668 311.7,653.6 317.6,638.6 319.4,656.9 322.2,676.3 327.8,675.8 333.3,678 339.4,688 347.8,685.8 356.7,683 364.4,681.9 372.2,680.2 377.8,684.7 384.4,693.6 394.4,704.7 401.1,700.8 411.1,694.7 420,696.9 421.1,696.9 434.4,700.7 447.8,703.6 461.1,705.1 472.2,705.8 483.3,705.8 488.9,706.9 494.4,703.6 499.3,705.8 504.4,701.3 510,703.6 515.6,698 521.1,700.2 527.8,698.4 533.3,696.9 538.9,698 544.4,696.9 548.9,693.6 554.4,694.7 560,688 565.1,692.4 570.4,689.1 576.7,692.4 582.2,693.6 587.8,689.1 593.3,684.7 598.9,689.1 604.4,684.7 610,685.8 615.6,683.6 640,683.6 640,1072 156.7,1072" fill="#00c5c8" />
<polygon points="164.4,991.2 163.9,966.2 162.2,929.6 161.1,874 161.7,840.4 163.9,830.4 168.9,819.3 173.3,811.6 178.9,801.6 184.4,786.6 186.7,803.8 190,842.7 192.8,823.8 196.7,803.8 201.1,788.2 203.9,801.6 206.7,817.1 210,796 213.3,773.8 217.2,753.8 220.6,763.8 223.3,772.7 225.6,760.4 228.7,744.3 231.1,750.4 234.4,757.1 236.1,749.3 237.2,746 240,731.3 245.6,736.3 247.8,729.1 250.6,716.9 253.3,706.9 256.1,697.4 261.7,694.7 264.4,684.7 267.2,678 270,676.9 270,679.1 274.4,673.6 278.7,667.4 283.9,675.2 289.8,671.1 295.6,684.1 300.6,682.4 302.8,690.2 306.1,699.1 311.7,693.6 317.6,688 319.4,695.8 322.2,706.3 327.8,705.8 333.3,707.4 339.4,717.4 347.8,714.1 356.7,710.8 364.4,709.7 372.2,708 377.8,712.4 384.4,723.6 389.4,731.3 394.4,736.3 400,733.6 405,728 411.1,725.2 420,724.7 421.1,725.8 434.4,729.1 447.8,732.4 461.1,733.1 472.2,731.8 483.3,730.2 494.4,728 504.4,724.2 515.6,719.8 527.8,718 538.9,715.8 548.9,713.6 560,714 570.4,714 582.2,716.2 587.8,713.1 593.3,712.4 598.9,714.7 604.4,711.3 610.4,716.9 640,716.9 640,1072 164.4,1072" fill="#00c87a" />
<polygon points="187.8,966.2 190,940.7 192.2,907.3 195.6,874 197.8,857.1 201.3,837.7 203.9,851.6 206.7,866 208.9,846 212.2,823.8 217.2,798.2 220.6,804.9 223.7,811.6 226.1,798.2 228.9,784.9 231.7,788.8 234.4,792.7 236.7,779.3 239.4,767.1 245,769.9 247.8,759.3 251.7,746 256.1,734.1 261.7,731.9 264.4,724.7 267.2,718 270,719.1 270,719.7 274.4,715.8 278.7,710.8 283.9,717.4 289.8,715.6 295.6,728.6 300.6,726.3 302.8,732.4 306.1,741.3 311.7,735.8 317.6,729.7 319.4,736.9 322,745.8 327.8,747.7 333.9,749.3 339.4,757.7 347.8,755.4 355.6,751 361.1,750.2 366.7,751 372.2,750.2 377.8,755.4 383.3,766 388.9,776 394.4,782.1 399.4,783.8 402.2,778.2 405,772.7 411.1,771.3 416.7,770.7 420,771.6 427.8,773.6 438.9,776.2 450,778 465.6,778.4 483.3,772.4 494.4,766.9 505.6,760.2 515.6,752.4 521.1,752.4 527.8,749.1 538.9,746.9 548.9,743.6 560,745.8 570.4,749.1 576.7,747.3 582.2,749.6 587.8,747.3 598.9,745.8 604.4,740.2 610,746.4 640,746.4 640,1072 187.8,1072" fill="#c3ff00" />
<polygon points="196.7,966.2 197.8,951.8 199.4,929.6 201.7,911.8 207.8,912.9 210,896.2 212.2,874 214.4,857.1 217.6,838.2 220.6,846 223.7,856 226.1,838.2 228.9,821.6 231.7,829.3 234.4,836 236.7,818.2 239.8,802.7 245,806.6 247.8,790.4 251.1,777.1 256.1,766 261.7,766 264.4,758.2 267.2,752.7 270,753.8 272.8,754 276.7,746 278.7,743.6 280.6,746 284.2,749.9 289.8,747.1 292.8,754.9 295.6,761.6 300.6,761 303.3,769.3 306.1,777.7 311.7,774.9 317.6,772.1 319.4,777.1 322.2,784.3 327.8,786 333.9,788.8 336.7,792.7 339.4,797.7 345.6,800.2 351.1,797.7 356.7,794.3 361.1,792.1 366.7,792.7 372.2,791.3 377.8,797.1 381.1,804.9 384.4,812.7 388.9,824.9 394.4,833.2 399.4,838.2 402.2,833.8 405,828.8 411.1,828.2 416.7,821.6 420,822.7 421.1,823.6 426.7,833.1 434.4,832.4 441.1,833.1 450,834.7 465.6,832.4 476.7,826.9 487.8,821.3 498.9,813.6 510,804.7 521.1,796.9 532.2,790.2 538.9,790.9 548.9,786.4 560,791.3 565.6,790.2 570.4,796.9 576.7,791.3 582.2,794 587.8,792.4 593.3,795.8 598.9,798 601.1,786.9 604.4,774.7 608.2,775.8 640,775.8 640,1072 196.7,1072" fill="#ffff00" />
<polygon points="208.9,966.2 210,940.7 212.2,907.3 214.4,885.1 216.1,874 217.6,863.8 220,874 223.3,888.4 225.6,874 227.2,857.1 228.9,846.6 231.7,857.1 234.4,866.6 236.7,846 239.8,827.1 242.2,831.6 245.6,837.7 247.8,823.8 250.6,808.2 253.3,793.8 256.1,787.1 261.7,789.3 264.4,780.4 267.2,773.8 270,774.9 272.8,777.1 275.6,771.6 278.7,764.9 284.2,773.8 289.8,769.9 292.8,778.2 295.6,784.9 300.9,785.1 303.3,791.6 306.1,800.2 311.7,798.8 317.6,798.2 319.4,802.7 322.2,809.9 327.8,811.6 333.9,813.8 336.7,822.7 339.4,831.6 345.6,834.9 350,836.6 356.7,834.9 364.4,830.4 372.2,824.3 377.8,832.7 381.1,846 384.4,862.7 387.2,873.8 394.4,892.9 400,899.6 405.6,895.1 410.4,888.4 415.6,898.4 421.1,895.1 426.7,889.6 432.2,887.3 438.9,889.6 444.4,886.9 450,889.6 461.1,895.6 466.7,891.8 472.2,885.1 477.8,882.2 483.3,879.6 488.9,869.6 494.4,868.4 498.9,860.7 504.4,857.3 510,846.2 515.6,840.7 521.1,837.3 527.8,834 532.2,829.6 538.9,831.1 548.9,825.8 554.4,828.9 560,834 565.6,832.9 570.4,850.7 576.7,844.4 582.2,851.1 593.3,850.2 598.9,849.1 602.9,840.7 603.3,824 603.3,802.4 640,802.4 640,1072 208.9,1072" fill="#ff9900" />
<polygon points="170,873.8 173.3,851 176.7,873.8 176.7,916.2 173.9,940.7 173.3,991.2 172.2,991.2 172.8,951.8 171.7,918.4 170,874" fill="#c3ff00" />
<polygon points="215.6,966.2 216.7,940.7 217.6,932.9 220.6,946.2 223.3,965.1 225.6,940.7 228.3,900.7 231.1,918.4 234.4,943.4 236.7,907.3 239.8,878.4 242.2,885.1 245.6,896.2 247.8,874 250,857.1 252.8,840.4 256.1,823.8 261.7,831.6 264.4,818.2 267.2,809.3 270,811.6 272.8,816 275.6,809.3 278.7,801 284.2,814.9 289.8,812.1 292.8,820.4 295.6,828.8 300.9,832.7 303.3,840.4 306.1,850.4 311.7,850.4 317.6,849.9 319.4,858.2 322.2,872.7 323.3,873.8 333.3,874.7 338.9,899.6 344.4,902.9 350,900.7 355.6,899.6 361.1,904 366.7,902.9 372.2,912.9 377.8,926.2 383.3,941.8 388.9,951.8 394.4,958.4 400,954.7 405.6,952.4 411.1,955.1 416.7,965.1 427.8,971.8 433.3,974 438.9,986.2 443.3,985.1 450,995.1 455.6,988.4 457.1,1016.2 457.1,1068.4 215.6,1072" fill="#ff0000" />
<polygon points="496.7,1017.3 499.3,991.8 504.4,1015.1 505.6,992.9 510,966.2 515.6,958.4 521.1,934 526.7,932.9 532.2,915.1 537.8,920.7 543.3,928.4 548.9,913.3 554.4,920.7 560,939.6 565.1,941.8 567.8,961.8 571.1,1012.9 573.3,939.6 576.7,925.1 582.2,924 585.1,926.7 605.6,926.7 605.6,1068.4 496.7,1068.4" fill="#ff0000" />
<polygon points="485.6,1017.3 488.2,1005.8 490,1017.3" fill="#ff0000" />
</g></g></g>
<g id="panel-d"><g transform="translate(0,0)">
<clipPath id="oc-d"><polygon points="746,627.5 1238.3,627.5 1238.3,639.1 1227.2,639.1 1227.2,762.4 1223.9,778 1221.7,795.8 1220.6,818 1217.2,838 1217.2,824 1217.2,877.3 1211.7,895.1 1196.1,955.1 1195,977.3 1185,1016.2 1185,1036.2 1179.4,1036.2 1173.9,1056.2 1152.8,1056.2 1147.2,1036.2 1142.8,1036.2 1137.2,1056.2 1131.7,1056.2 1126.1,1036.2 1120.6,1036.2 1115,1016.2 1078.3,1016.2 1072.8,1036.2 1019.4,1036.2 1013.9,1016.2 1008.3,1016.2 1003.9,1035.1 998.3,1016.2 970.6,1016.2 970.6,996.2 965,976.2 949.4,976.2 943.9,996.2 933.9,996.2 928.3,1016.2 922.8,1036.2 907.2,1036.2 901.7,1016.2 886.1,1016.2 880.6,1036.2 875,1016.2 869.4,1016.2 863.9,996.2 848.3,996.2 842.8,976.2 810.6,976.2 810.6,956.2 805,937.3 800.1,955.1 799.4,996.2 789.4,996.2 789.4,977.3 783.9,956.2 767.2,956.2 762.8,937.3 761.7,895.1 757.2,877.3 757.2,824 757.2,762.4 752.8,751.3 751.7,691.3" fill="#000" /></clipPath>
<g clip-path="url(#oc-d)">
<polygon points="740,620 1245,620 1245,1070 740,1070" fill="#fff7e8" />
<polygon points="940,690 950,676.7 961.7,665 973.3,656.7 980,651.7 984.2,640 986.7,626.7 1245,625.5 1245,1070 800,1070 885,835.8 878.3,829.1 869.4,818 860.6,804.7 853.9,786.9 849.4,769.1 847.2,751.3 846.8,733.6 848.3,718 851.7,706.9 858.3,698 867.2,694.7 880.6,695.8 893.9,699.1 907.2,701.3 920.6,700.2 931.7,695.8" fill="#fee6b5" />
<polygon points="885,835.8 898.3,834.7 911.7,836.9 925,841.3 936.1,842.4 947.2,840.2 958.3,842.4 969.4,846.9 980.6,851.3 991.7,854 1007.2,857.3 1025,866.2 1040.6,871.8 1051.7,870.7 1073.9,874 1096.1,876.2 1118.3,879.6 1140.6,885.1 1162.8,889.6 1185,892.9 1198.3,895.1 1211.7,894 1245,900 1245,1070 740,1070 740,835" fill="#fff7e8" />
<polygon points="940,703.3 950,688.3 961.7,675 973.3,665 983.3,658.3 990,651.7 995,643.3 998.3,635 1001.7,626.7 1245,625.5 1245,840 1216.1,838.4 1207.2,835.1 1185,838.4 1162.8,838.4 1140.6,836.2 1118.3,834 1096.1,831.8 1073.9,829.6 1051.7,827.3 1029.4,824 1011.7,815.8 998.3,809.1 987.2,806.9 976.1,805.8 967.2,802.4 956.1,795.8 945,790.2 931.7,784.7 918.3,778 911.7,771.3 906.1,760.2 903.9,751.3 907.2,748 916.1,742.4 925,731.3" fill="#fedb65" />
<polygon points="950.6,735.8 951.7,724.7 955,716.7 963.3,703.3 973.3,693.3 983.3,689.2 995,686.7 1006.7,685 1015,680.8 1023.3,672.5 1028.3,663.3 1028.3,651.7 1025,640 1022.5,626.7 1245,625.5 1245,803 1221.7,802.4 1202.8,802.4 1189.4,804.7 1173.9,809.1 1153.9,811.3 1136.1,811.3 1118.3,810.2 1100.6,806.9 1082.8,800.2 1065,795.8 1047.2,795.8 1029.4,793.6 1011.7,786.9 998.3,782.4 985,782.4 980.6,769.1 969.4,764.7 960.6,755.8 953.9,746.9" fill="#fec932" />
<polygon points="977.5,725 983.3,713.3 993.3,703.3 1006.7,696.7 1016.7,691.7 1026.7,683.3 1033.3,673.3 1035.8,660 1034.2,648.3 1030,636.7 1026.7,626.7 1245,625.5 1245,783 1223.9,782.4 1211.7,781.3 1198.3,781.3 1185,785.8 1171.7,790.2 1153.9,793.6 1136.1,793.6 1118.3,791.3 1100.6,786.9 1082.8,780.2 1065,774.7 1047.2,771.3 1029.4,766.9 1018.3,760.2 1007.2,751.3 996.1,742.4 985,735.8 981.7,736.7" fill="#feab38" />
<polygon points="1010.8,713.3 1015,706.7 1023.3,700 1033.3,695 1043.3,691.7 1053.3,688.3 1060,680 1061.7,668.3 1056.7,656.7 1048.3,646.7 1040,638.3 1033.3,631.7 1030.8,626.7 1245,625.5 1245,770 1226.1,769.1 1220.6,762.4 1209.4,760.2 1198.3,762.4 1185,769.1 1169.4,775.8 1153.9,778 1136.1,778 1118.3,774.7 1100.6,769.1 1085,760.2 1069.4,753.6 1051.7,749.1 1040.6,744.7 1029.4,735.8 1018.3,724.7" fill="#fd9437" />
<polygon points="1033.3,711.7 1040,705 1050,700 1060,696.7 1070,691.7 1075,683.3 1075,673.3 1070,663.3 1063.3,655 1055,648.3 1046.7,641.7 1040,635 1037.5,626.7 1245,625.5 1245,750 1227.2,751.3 1218.3,748 1207.2,749.1 1196.1,753.6 1182.8,760.2 1167.2,765.8 1149.4,766.9 1131.7,765.8 1113.9,760.2 1098.3,751.3 1085,740.2 1069.4,729.1 1051.7,722.4 1040.6,718" fill="#fd7238" />
<polygon points="1047.2,626.9 1056.1,644.7 1065,662.4 1073.9,680.2 1080.6,695.8 1089.4,711.3 1100.6,724.7 1113.9,735.8 1127.2,744.7 1140.6,751.3 1153.9,754.7 1169.4,753.6 1182.8,749.1 1193.9,742.4 1205,735.8 1216.1,733.6 1227.2,735.8 1245,740 1245,625.5" fill="#fe5603" />
<polygon points="1058.3,626.9 1065,640.2 1073.9,655.8 1082.8,673.6 1091.7,691.3 1105,706.9 1118.3,718 1131.7,726.9 1145,732.4 1158.3,735.8 1173.9,734.7 1185,731.3 1196.1,724.7 1207.2,719.1 1218.3,714.7 1227.2,713.6 1245,712 1245,625.5" fill="#e42a22" />
<polygon points="1073.3,626.7 1078.3,635 1086.7,646.7 1098.3,658.3 1110,668.3 1123.3,676.7 1133.3,683.3 1140,693.3 1145,703.3 1151.7,711.7 1160,716.7 1160.6,716.9 1173.9,721.3 1185,719.1 1193.9,711.3 1202.8,702.4 1213.9,695.8 1227.2,691.3 1245,690 1245,625.5" fill="#ad231d" />
</g></g><g id="d-lines" transform="translate(0,0)">
<polyline points="947.2,634.3 959.2,632.5 971.9,628.4" fill="none" stroke="#000" stroke-width="2.1" stroke-linejoin="round" stroke-linecap="round" />
<polyline points="947.2,638.1 959.2,636.1 971.9,631.7" fill="none" stroke="#000" stroke-width="2.1" stroke-linejoin="round" stroke-linecap="round" />
<polyline points="947.2,641.9 959.2,639.6 971.9,635" fill="none" stroke="#000" stroke-width="2.1" stroke-linejoin="round" stroke-linecap="round" />
<polyline points="947.2,645.8 959.2,643.2 971.9,638.4" fill="none" stroke="#000" stroke-width="2.1" stroke-linejoin="round" stroke-linecap="round" />
<polyline points="947.2,649.6 959.2,646.8 971.9,641.7" fill="none" stroke="#000" stroke-width="2.1" stroke-linejoin="round" stroke-linecap="round" />
<polyline points="947.2,653.4 959.2,650.4 971.9,645" fill="none" stroke="#000" stroke-width="2.1" stroke-linejoin="round" stroke-linecap="round" />
<polyline points="947.2,657.3 959.2,654 971.9,648.3" fill="none" stroke="#000" stroke-width="2.1" stroke-linejoin="round" stroke-linecap="round" />
<polyline points="947.2,668.8 970.7,659.8" fill="none" stroke="#000" stroke-width="2.1" stroke-linejoin="round" stroke-linecap="round" />
<polyline points="947.7,662.4 968.1,656" fill="none" stroke="#000" stroke-width="2.1" stroke-linejoin="round" stroke-linecap="round" />
<polyline points="1005.8,686.7 996.7,688.3 990,686.7 984.2,680 980.8,672.5 985,667.5 995,663.3 1003.3,656.7 1011.7,651.7 1016.7,645 1018.3,635 1020,628.3" fill="none" stroke="#000" stroke-width="2.1" stroke-linejoin="round" stroke-linecap="round" />
<polyline points="1043.3,685 1050,685 1056.7,687.5 1065,691.7 1073.3,692.5 1083.3,695.8 1091.7,700.8 1098.3,706.7 1106.7,698.3 1116.7,688.3 1123.3,683.3 1124.2,678.3 1126.7,685 1133.3,691.7 1138.3,705 1144.2,716.7 1150,713.3" fill="none" stroke="#000" stroke-width="2.1" stroke-linejoin="round" stroke-linecap="round" />
<polyline points="1171.7,680.2 1171.2,673.6 1167.2,664.7 1160.6,658 1151.7,653.6 1145,650.2 1140.6,653.6 1136.1,660.2 1132.8,665.8 1123.9,666.9 1125,653.6 1122.8,640.2 1120.6,628" fill="none" stroke="#000" stroke-width="2.1" stroke-linejoin="round" stroke-linecap="round" />
<polyline points="946.7,718.3 947.5,722.5" fill="none" stroke="#000" stroke-width="2.1" stroke-linejoin="round" stroke-linecap="round" />
<polyline points="947.5,732.5 956.7,731.7 966.7,734.2 976.7,732.5 986.7,734.2 991.7,730 1000,733.3 1008.3,735 1012.5,727.5 1013.3,743.3 1023.3,746.7 1036.7,748.3 1050,748.7" fill="none" stroke="#000" stroke-width="2.1" stroke-linejoin="round" stroke-linecap="round" />
<polyline points="1090,753.3 1098.3,756.7 1106.7,758.3 1114.2,760.8 1120,757.5 1136.7,755 1153.3,750.8 1165,746.7 1167.2,748 1179.4,744.7 1183.9,732.4 1188.3,742.4 1193.9,745.8 1202.8,748 1209.4,753.6 1218.3,754" fill="none" stroke="#000" stroke-width="2.1" stroke-linejoin="round" stroke-linecap="round" />
<polyline points="1255,756.9 1260.6,752.4 1267.2,753.1 1273.9,751.3" fill="none" stroke="#000" stroke-width="2.1" stroke-linejoin="round" stroke-linecap="round" />
<polyline points="1052.8,659.1 1062.8,661.3 1073.9,663.6 1081.7,664.7 1081.7,669.1 1090.6,669.1 1091.7,665.8 1088.3,664.7 1096.1,670.2 1100.6,671.3 1109.4,660.2 1113.9,649.1 1116.1,638 1118.3,628" fill="none" stroke="#000" stroke-width="2.1" stroke-linejoin="round" stroke-linecap="round" />
<polyline points="1047.3,631.7 1060.1,637.6 1078,640.2 1093.3,636.3 1103.6,628.4" fill="none" stroke="#000" stroke-width="2.1" stroke-linejoin="round" stroke-linecap="round" />
<polyline points="1042.2,635.6 1060.1,641.7 1079.3,644.2 1095.9,640.4 1108.7,630.4 1109.9,627.9" fill="none" stroke="#000" stroke-width="2.1" stroke-linejoin="round" stroke-linecap="round" />
<polyline points="1039.7,639.4 1060.1,645.8 1080.6,648.3 1098.4,644.5 1111.2,634.3 1113.8,627.9" fill="none" stroke="#000" stroke-width="2.1" stroke-linejoin="round" stroke-linecap="round" />
<polyline points="1037.1,643.2 1060.1,649.9 1081.8,652.4 1101,648.3 1115.1,635.6 1117.6,627.9" fill="none" stroke="#000" stroke-width="2.1" stroke-linejoin="round" stroke-linecap="round" />
<polyline points="1049.9,629.9 1067.8,634.3 1083.1,635 1095.9,631.7 1099.7,627.9" fill="none" stroke="#000" stroke-width="2.1" stroke-linejoin="round" stroke-linecap="round" />
<polyline points="1133.9,639.3 1134.8,640.2" fill="none" stroke="#000" stroke-width="2.1" stroke-linejoin="round" stroke-linecap="round" />
<polyline points="1181.7,633.6 1202.8,630.2" fill="none" stroke="#000" stroke-width="2.1" stroke-linejoin="round" stroke-linecap="round" />
<polyline points="1171.7,649.1 1178.3,655.8 1185,662.4 1193.9,665.8 1201.7,662.4 1203.9,659.1 1209.4,656.9 1216.1,649.1 1217.2,644.7 1223.9,643.6 1226.1,646.9 1225,660.2 1228.3,665.8 1236.1,668 1273.9,668" fill="none" stroke="#000" stroke-width="2.1" stroke-linejoin="round" stroke-linecap="round" />
<polyline points="1225.7,645.8 1227.7,648 1225.7,650.2 1227.7,652.4 1225.7,654.7 1227.2,656.9" fill="none" stroke="#000" stroke-width="2.1" stroke-linejoin="round" stroke-linecap="round" />
<polyline points="1251.7,786.9 1255,793.6 1259.4,803.6" fill="none" stroke="#000" stroke-width="2.1" stroke-linejoin="round" stroke-linecap="round" />
<polyline points="1251.7,786.9 1248.3,798" fill="none" stroke="#000" stroke-width="2.1" stroke-linejoin="round" stroke-linecap="round" />
<polyline points="1218.3,946.2 1217.2,926.2 1220.6,919.6 1227.2,916.9 1273.9,916.9" fill="none" stroke="#000" stroke-width="2.1" stroke-linejoin="round" stroke-linecap="round" />
<polyline points="1259.4,946.9 1273.9,946.2" fill="none" stroke="#000" stroke-width="2.1" stroke-linejoin="round" stroke-linecap="round" />
<polyline points="947.2,821.3 953.9,828 959.4,829.1 967.2,839.6 972.8,844 978.3,855.1 982.8,865.1 982.8,871.8 988.3,871.8 995,882.9 999.4,888.4 1001.7,899.6 1001.7,912.9 1000.6,924 1000.6,946.2 997.2,950.7 995,947.3 995,935.1 992.8,928.4 989.4,921.8 985,927.3" fill="none" stroke="#000" stroke-width="2.1" stroke-linejoin="round" stroke-linecap="round" />
<polyline points="947.2,954 955,959.6 972.8,952.9 975,948.4" fill="none" stroke="#000" stroke-width="2.1" stroke-linejoin="round" stroke-linecap="round" />
<polyline points="1012.8,902.9 1018.3,897.3 1019.4,888.4 1025,884.4 1027.2,890.7 1030.6,884 1035,885.1 1036.6,897.3 1038.3,912.9 1040.6,925.1 1038.3,939.6 1036.1,948.4 1036.6,966.2 1035,968.4 1032.8,955.1 1028.3,950.7 1021.7,958.4 1018.3,955.1 1023.9,952.9" fill="none" stroke="#000" stroke-width="2.1" stroke-linejoin="round" stroke-linecap="round" />
<polyline points="1028.3,912.9 1026.1,926.2 1027.2,938.4 1029.4,939.6 1030.6,926.2 1029.4,914 1028.3,912.9" fill="none" stroke="#000" stroke-width="2.1" stroke-linejoin="round" stroke-linecap="round" />
<polyline points="1041.2,886.4 1042.1,887.3" fill="none" stroke="#000" stroke-width="2.1" stroke-linejoin="round" stroke-linecap="round" />
<polyline points="1009,921.8 1010.8,923.6 1009,925.3 1008.1,923.6 1009,921.8" fill="none" stroke="#000" stroke-width="2.1" stroke-linejoin="round" stroke-linecap="round" />
<polyline points="993.9,1024 993,1028.4 993.9,1032.9 994.8,1028.4 993.9,1024" fill="none" stroke="#000" stroke-width="2.1" stroke-linejoin="round" stroke-linecap="round" />
<polyline points="1090.1,1022.9 1092.8,1027.3 1090.1,1032.9 1087.7,1027.3 1090.1,1022.9" fill="none" stroke="#000" stroke-width="2.1" stroke-linejoin="round" stroke-linecap="round" />
<text class="cl" stroke="#000" stroke-width="0.35" style="font-size:20px" transform="translate(1024.0,687.0) rotate(0)" y="7.2">5.1</text>
<text class="cl" stroke="#000" stroke-width="0.35" style="font-size:20px" transform="translate(1163.0,697.0) rotate(-65)" y="7.2">5.1</text>
<text class="cl" stroke="#000" stroke-width="0.35" style="font-size:20px" transform="translate(1070.0,752.0) rotate(4)" y="7.2">0.7</text>
<text class="cl" stroke="#000" stroke-width="0.35" style="font-size:20px" transform="translate(1239.0,756.0) rotate(5)" y="7.2">0.7</text>
<text class="cl" stroke="#000" stroke-width="0.35" style="font-size:20px" transform="translate(1035.0,651.0) rotate(35)" y="7.2">9.5</text>
<text class="cl" stroke="#000" stroke-width="0.7" style="font-size:13px" transform="translate(984.0,634.0) rotate(-20)" y="4.7">8</text>
<text class="cl" stroke="#000" stroke-width="0.7" style="font-size:13px" transform="translate(988.0,640.0) rotate(-20)" y="4.7">8</text>
<text class="cl" stroke="#000" stroke-width="0.7" style="font-size:13px" transform="translate(993.0,636.0) rotate(-20)" y="4.7">8</text>
<text class="cl" stroke="#000" stroke-width="0.7" style="font-size:13px" transform="translate(998.0,632.0) rotate(-20)" y="4.7">8</text>
<text class="cl" stroke="#000" stroke-width="0.7" style="font-size:13px" transform="translate(1002.0,640.0) rotate(-20)" y="4.7">8</text>
<text class="cl" stroke="#000" stroke-width="0.7" style="font-size:13px" transform="translate(991.0,646.0) rotate(-20)" y="4.7">8</text>
<text class="cl" stroke="#000" stroke-width="0.7" style="font-size:13px" transform="translate(1006.0,634.0) rotate(-20)" y="4.7">8</text>
<text class="cl" stroke="#000" stroke-width="0.7" style="font-size:13px" transform="translate(980.0,641.0) rotate(-20)" y="4.7">8</text>
<text class="cl" stroke="#000" stroke-width="0.7" style="font-size:13px" transform="translate(996.0,644.0) rotate(-20)" y="4.7">8</text>
<text class="cl" stroke="#000" stroke-width="0.35" style="font-size:19px" transform="translate(989.0,655.0) rotate(-25)" y="6.8">6.1</text>
<text class="cl" stroke="#000" stroke-width="0.7" style="font-size:14px" transform="translate(1050.0,624.5) rotate(0)" y="5.0">8</text>
<text class="cl" stroke="#000" stroke-width="0.7" style="font-size:14px" transform="translate(1058.0,624.5) rotate(0)" y="5.0">8</text>
<text class="cl" stroke="#000" stroke-width="0.7" style="font-size:14px" transform="translate(1066.0,624.5) rotate(0)" y="5.0">8</text>
<text class="cl" stroke="#000" stroke-width="0.7" style="font-size:14px" transform="translate(1074.0,624.5) rotate(0)" y="5.0">8</text>
<text class="cl" stroke="#000" stroke-width="0.7" style="font-size:14px" transform="translate(1082.0,624.5) rotate(0)" y="5.0">8</text>
<text class="cl" stroke="#000" stroke-width="0.7" style="font-size:14px" transform="translate(1090.0,625.0) rotate(0)" y="5.0">0</text>
<text class="cl" stroke="#000" stroke-width="0.7" style="font-size:14px" transform="translate(1008.0,625.0) rotate(0)" y="5.0">0</text>
<text class="cl" stroke="#000" stroke-width="0.35" style="font-size:20px" transform="translate(1170.5,632.5) rotate(90)" y="7.2">-0.7</text>
<text class="cl" stroke="#000" stroke-width="0.35" style="font-size:20px" transform="translate(1160.0,640.0) rotate(-32)" y="7.2">0.7</text>
<text class="cl" stroke="#000" stroke-width="0.35" style="font-size:20px" transform="translate(1253.0,802.0) rotate(-60)" y="7.2">0.7</text>
<text class="cl" stroke="#000" stroke-width="0.35" style="font-size:20px" transform="translate(1238.0,947.0) rotate(0)" y="7.2">0.7</text>
<text class="cl" stroke="#000" stroke-width="0.35" style="font-size:20px" transform="translate(984.0,938.0) rotate(-60)" y="7.2">3.7</text>
<text class="cl" stroke="#000" stroke-width="0.35" style="font-size:19px" transform="translate(1015.0,928.0) rotate(90)" y="6.8">3.7</text>
</g></g>
<g transform="translate(0,588.1)">
<rect x="101.65" y="36.8" width="530.35" height="442.0" fill="none" stroke="#262626" stroke-width="5.5"/>
<path d="M214.7 478.8v-8.5M214.7 36.8v8.5" stroke="#262626" stroke-width="5.3" fill="none"/>
<path d="M403.3 478.8v-8.5M403.3 36.8v8.5" stroke="#262626" stroke-width="5.3" fill="none"/>
<path d="M592.0 478.8v-8.5M592.0 36.8v8.5" stroke="#262626" stroke-width="5.3" fill="none"/>
<path d="M101.65 38.6h8.5M632 38.6h-8.5" stroke="#262626" stroke-width="5.3" fill="none"/>
<path d="M101.65 139h8.5M632 139h-8.5" stroke="#262626" stroke-width="5.3" fill="none"/>
<path d="M101.65 239.6h8.5M632 239.6h-8.5" stroke="#262626" stroke-width="5.3" fill="none"/>
<path d="M101.65 340.3h8.5M632 340.3h-8.5" stroke="#262626" stroke-width="5.3" fill="none"/>
<path d="M101.65 441h8.5M632 441h-8.5" stroke="#262626" stroke-width="5.3" fill="none"/>
<text x="93.6" y="48.5" class="tke">1000</text>
<text x="93.6" y="149" class="tke">2000</text>
<text x="93.6" y="249.6" class="tke">3000</text>
<text x="93.6" y="350.3" class="tke">4000</text>
<text x="93.6" y="451" class="tke">5000</text>
<text x="214.1" y="513.1" class="tkm">-50</text>
<text x="402.7" y="513.1" class="tkm">0</text>
<text x="591.4" y="513.1" class="tkm">50</text>
<text x="366.75" y="24.3" class="tt">RMSE between Iage and B-P age, Pacific</text>
<text x="366.75" y="556" class="lb">Latitude (<tspan dy="-15" font-size="21.5">o</tspan><tspan dy="15">)</tspan></text>
<text transform="translate(22.6,257.3) rotate(-90)" class="lb">Depth (m)</text>
<rect x="104.4" y="38.7" width="61.3" height="61.1" fill="#fdfbfb"/>
<text x="135" y="78.5" class="lb" style="fill:#000">(c)</text>
<rect x="642.1" y="434.92" width="21.799999999999955" height="44.52" fill="#7f0087"/>
<rect x="642.1" y="390.70" width="21.799999999999955" height="44.52" fill="#5a00b8"/>
<rect x="642.1" y="346.47" width="21.799999999999955" height="44.52" fill="#4400f0"/>
<rect x="642.1" y="302.25" width="21.799999999999955" height="44.52" fill="#00a5e1"/>
<rect x="642.1" y="258.02" width="21.799999999999955" height="44.52" fill="#00c5c8"/>
<rect x="642.1" y="213.80" width="21.799999999999955" height="44.52" fill="#00c87a"/>
<rect x="642.1" y="169.57" width="21.799999999999955" height="44.52" fill="#c3ff00"/>
<rect x="642.1" y="125.35" width="21.799999999999955" height="44.52" fill="#ffff00"/>
<rect x="642.1" y="81.12" width="21.799999999999955" height="44.52" fill="#ff9900"/>
<rect x="642.1" y="36.90" width="21.799999999999955" height="44.52" fill="#ff0000"/>
<rect x="642.1" y="36.9" width="21.80" height="442.25" fill="none" stroke="#262626" stroke-width="0.7" stroke-opacity="0.8"/>
<text x="672.1999999999999" y="489.05" class="cb">0</text>
<path d="M663.9 390.70h-4" stroke="#262626" stroke-width="1"/>
<text x="672.1999999999999" y="400.60" class="cb">140</text>
<path d="M663.9 302.25h-4" stroke="#262626" stroke-width="1"/>
<text x="672.1999999999999" y="312.15" class="cb">280</text>
<path d="M663.9 213.80h-4" stroke="#262626" stroke-width="1"/>
<text x="672.1999999999999" y="223.70" class="cb">420</text>
<path d="M663.9 125.35h-4" stroke="#262626" stroke-width="1"/>
<text x="672.1999999999999" y="135.25" class="cb">560</text>
<text x="672.1999999999999" y="46.80" class="cb">700</text>
<rect x="730.35" y="36.8" width="546.4499999999999" height="442.0" fill="none" stroke="#262626" stroke-width="5.5"/>
<path d="M839.8 478.8v-8.5M839.8 36.8v8.5" stroke="#262626" stroke-width="5.3" fill="none"/>
<path d="M1022.2 478.8v-8.5M1022.2 36.8v8.5" stroke="#262626" stroke-width="5.3" fill="none"/>
<path d="M1204.8 478.8v-8.5M1204.8 36.8v8.5" stroke="#262626" stroke-width="5.3" fill="none"/>
<path d="M730.35 118h8.5M1276.8 118h-8.5" stroke="#262626" stroke-width="5.3" fill="none"/>
<path d="M730.35 198h8.5M1276.8 198h-8.5" stroke="#262626" stroke-width="5.3" fill="none"/>
<path d="M730.35 278h8.5M1276.8 278h-8.5" stroke="#262626" stroke-width="5.3" fill="none"/>
<path d="M730.35 358h8.5M1276.8 358h-8.5" stroke="#262626" stroke-width="5.3" fill="none"/>
<path d="M730.35 438h8.5M1276.8 438h-8.5" stroke="#262626" stroke-width="5.3" fill="none"/>
<text x="839.1999999999999" y="513.1" class="tkm">-50</text>
<text x="1021.6" y="513.1" class="tkm">0</text>
<text x="1204.2" y="513.1" class="tkm">50</text>
<text x="1002.8" y="24.3" class="tt">Water Mass Fraction from NP</text>
<text x="1003.6" y="556" class="lb">Latitude (<tspan dy="-15" font-size="21.5">o</tspan><tspan dy="15">)</tspan></text>
<rect x="736" y="42.9" width="61.3" height="61.1" fill="#fdfbfb"/>
<text x="767.8" y="82.8" class="lb" style="fill:#000">(d)</text>
<rect x="1288.2" y="434.92" width="22.5" height="44.52" fill="#fff7e8"/>
<rect x="1288.2" y="390.70" width="22.5" height="44.52" fill="#fee6b5"/>
<rect x="1288.2" y="346.47" width="22.5" height="44.52" fill="#fedb65"/>
<rect x="1288.2" y="302.25" width="22.5" height="44.52" fill="#fec932"/>
<rect x="1288.2" y="258.02" width="22.5" height="44.52" fill="#feab38"/>
<rect x="1288.2" y="213.80" width="22.5" height="44.52" fill="#fd9437"/>
<rect x="1288.2" y="169.57" width="22.5" height="44.52" fill="#fd7238"/>
<rect x="1288.2" y="125.35" width="22.5" height="44.52" fill="#fe5603"/>
<rect x="1288.2" y="81.12" width="22.5" height="44.52" fill="#e42a22"/>
<rect x="1288.2" y="36.90" width="22.5" height="44.52" fill="#ad231d"/>
<rect x="1288.2" y="36.9" width="22.50" height="442.25" fill="none" stroke="#262626" stroke-width="0.7" stroke-opacity="0.8"/>
<text x="1319.0" y="489.05" class="cb">0</text>
<path d="M1310.7 390.70h-4" stroke="#262626" stroke-width="1"/>
<text x="1319.0" y="400.60" class="cb">0.2</text>
<path d="M1310.7 302.25h-4" stroke="#262626" stroke-width="1"/>
<text x="1319.0" y="312.15" class="cb">0.4</text>
<path d="M1310.7 213.80h-4" stroke="#262626" stroke-width="1"/>
<text x="1319.0" y="223.70" class="cb">0.6</text>
<path d="M1310.7 125.35h-4" stroke="#262626" stroke-width="1"/>
<text x="1319.0" y="135.25" class="cb">0.8</text>
<text x="1319.0" y="46.80" class="cb">1</text>
</g>
</svg></body></html>
